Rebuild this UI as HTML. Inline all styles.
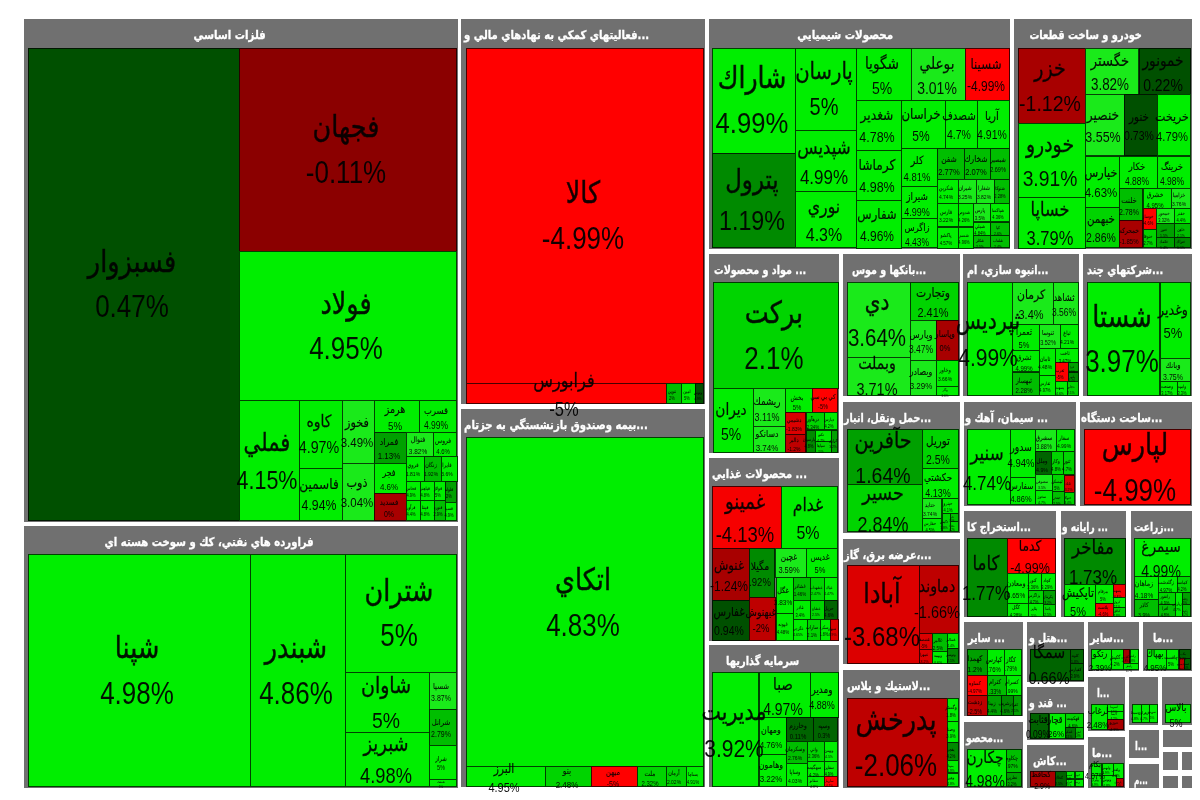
<!DOCTYPE html>
<html lang="fa"><head><meta charset="utf-8"><title>نقشه بازار</title>
<style>
html,body{margin:0;padding:0;background:#fff}
body{width:1200px;height:800px;position:relative;overflow:hidden;filter:blur(.55px);font-family:"Liberation Sans","DejaVu Sans",sans-serif}
.g{position:absolute;background:#707070}
.h{position:absolute;left:0;right:0;top:0;color:#fff;font-family:"DejaVu Sans","Liberation Sans",sans-serif;font-weight:bold;font-size:12px;line-height:14px;white-space:nowrap;overflow:hidden;direction:ltr;text-align:left;-webkit-text-stroke:.3px #fff}
.h span{display:inline-block;transform-origin:0 50%;transform:scaleX(.81)}
.h.c{text-align:center}
.h.c span{transform-origin:50% 50%;transform:translateX(-12.5%) scaleX(.83)}
.t{position:absolute;box-sizing:border-box;border:1px solid rgba(0,0,0,.72)}
.l{position:absolute;white-space:nowrap;color:#000;text-align:center;transform-origin:50% 50%;direction:rtl;opacity:.92}
.l b{font-weight:normal;display:block;direction:ltr}
.l span{display:block;position:relative;transform:scaleX(.98);-webkit-text-stroke:.015em #000}
</style></head><body>
<div class="g" style="left:23.5px;top:19px;width:434px;height:503px"><div class="h c" style="height:19.5px;padding:9px 0 0 0"><span id="h0" style="transform:translateX(-12.71%) scaleX(0.85)">فلزات اساسي</span></div><div class="t" style="left:4px;top:28.5px;width:212.2px;height:473px;background:#005000"></div><div class="t" style="left:215.2px;top:28.5px;width:218.8px;height:204.5px;background:#8B0000"></div><div class="t" style="left:215.2px;top:232px;width:218.8px;height:150px;background:#00EE00"></div><div class="t" style="left:215.2px;top:381px;width:61.3px;height:120.5px;background:#00EE00"></div><div class="t" style="left:275.5px;top:381px;width:44px;height:68.5px;background:#00EE00"></div><div class="t" style="left:275.5px;top:448.5px;width:44px;height:53px;background:#00EE00"></div><div class="t" style="left:318.5px;top:381px;width:33px;height:64px;background:#1AEA1A"></div><div class="t" style="left:318.5px;top:444px;width:33px;height:57.5px;background:#1AEA1A"></div><div class="t" style="left:350.5px;top:381px;width:45.8px;height:33px;background:#00EE00"></div><div class="t" style="left:395.3px;top:381px;width:38.7px;height:33px;background:#00EE00"></div><div class="t" style="left:350.5px;top:413px;width:33px;height:31.5px;background:#00A000"></div><div class="t" style="left:382.5px;top:413px;width:27.8px;height:24.5px;background:#1AEA1A"></div><div class="t" style="left:409.3px;top:413px;width:24.7px;height:24.5px;background:#00EE00"></div><div class="t" style="left:350.5px;top:443.5px;width:33px;height:31.5px;background:#00EE00"></div><div class="t" style="left:350.5px;top:474px;width:33px;height:27.5px;background:#A80000"></div><div class="t" style="left:382.5px;top:436.5px;width:18.5px;height:26px;background:#00EE00"></div><div class="t" style="left:400px;top:436.5px;width:18px;height:26px;background:#00BE00"></div><div class="t" style="left:417px;top:436.5px;width:17px;height:26px;background:#00EE00"></div><div class="t" style="left:382.5px;top:461.5px;width:14.5px;height:20px;background:#00EE00"></div><div class="t" style="left:396px;top:461.5px;width:15.5px;height:20px;background:#00EE00"></div><div class="t" style="left:410.5px;top:461.5px;width:12.1px;height:20px;background:#00EE00"></div><div class="t" style="left:421.6px;top:461.5px;width:12.4px;height:22px;background:#00A000"></div><div class="t" style="left:382.5px;top:480.5px;width:14.5px;height:21px;background:#00EE00"></div><div class="t" style="left:396px;top:480.5px;width:15.5px;height:21px;background:#00EE00"></div><div class="t" style="left:410.5px;top:480.5px;width:12.1px;height:21px;background:#00BE00"></div><div class="t" style="left:421.6px;top:482.5px;width:12.4px;height:19px;background:#00EE00"></div></div>
<div class="g" style="left:23.5px;top:526px;width:434px;height:261.5px"><div class="h c" style="height:18.5px;padding:9px 0 0 0"><span id="h1" style="transform:translateX(-12.58%) scaleX(0.84)">فراورده هاي نفتي، كك و سوخت هسته اي</span></div><div class="t" style="left:4px;top:27.5px;width:223.5px;height:233.5px;background:#00EE00"></div><div class="t" style="left:226.5px;top:27.5px;width:96.3px;height:233.5px;background:#00EE00"></div><div class="t" style="left:321.8px;top:27.5px;width:112.2px;height:119px;background:#00EE00"></div><div class="t" style="left:321.8px;top:145.5px;width:84.9px;height:61.5px;background:#00EE00"></div><div class="t" style="left:321.8px;top:206px;width:84.9px;height:55px;background:#00EE00"></div><div class="t" style="left:405.7px;top:145.5px;width:28.3px;height:38px;background:#1AEA1A"></div><div class="t" style="left:405.7px;top:182.5px;width:28.3px;height:37px;background:#00BE00"></div><div class="t" style="left:405.7px;top:218.5px;width:28.3px;height:35px;background:#00EE00"></div><div class="t" style="left:405.7px;top:252.5px;width:28.3px;height:8.5px;background:#00EE00"></div></div>
<div class="g" style="left:461px;top:19px;width:244px;height:385.3px"><div class="h" style="height:19.5px;padding:9px 0 0 2.5px"><span id="h2" style="transform:scaleX(0.84)">فعاليتهاي كمكي به نهادهاي مالي و...</span></div><div class="t" style="left:4.5px;top:28.5px;width:238.8px;height:336.8px;background:#FF0000"></div><div class="t" style="left:4.5px;top:364.3px;width:201.8px;height:20.5px;background:#FF0000"></div><div class="t" style="left:205.3px;top:364.3px;width:16px;height:20.5px;background:#00BE00"></div><div class="t" style="left:220.3px;top:364.3px;width:15px;height:20.5px;background:#00EE00"></div><div class="t" style="left:234.3px;top:364.3px;width:9px;height:20.5px;background:#005000"></div></div>
<div class="g" style="left:461px;top:408.7px;width:244px;height:378.8px"><div class="h" style="height:19.3px;padding:9px 0 0 2.7px"><span id="h3" style="transform:scaleX(0.84)">بيمه وصندوق بازنشستگي به جزتام...</span></div><div class="t" style="left:4.5px;top:28.3px;width:238.8px;height:330.5px;background:#00EE00"></div><div class="t" style="left:4.5px;top:357.8px;width:80.8px;height:20.5px;background:#00EE00"></div><div class="t" style="left:84.3px;top:357.8px;width:47px;height:20.5px;background:#00D400"></div><div class="t" style="left:130.3px;top:357.8px;width:46.5px;height:20.5px;background:#FF0000"></div><div class="t" style="left:175.8px;top:357.8px;width:29.9px;height:20.5px;background:#00D400"></div><div class="t" style="left:204.7px;top:357.8px;width:21px;height:20.5px;background:#00D400"></div><div class="t" style="left:224.7px;top:357.8px;width:18.6px;height:20.5px;background:#00EE00"></div></div>
<div class="g" style="left:708.7px;top:19px;width:301.8px;height:230px"><div class="h c" style="height:19.5px;padding:9px 0 0 0"><span id="h4" style="transform:translateX(-12.95%) scaleX(0.86)">محصولات شيميايي</span></div><div class="t" style="left:3.8px;top:28.5px;width:83.8px;height:106.4px;background:#00EE00"></div><div class="t" style="left:3.8px;top:133.9px;width:83.8px;height:95.6px;background:#008A00"></div><div class="t" style="left:86.6px;top:28.5px;width:61.7px;height:83.7px;background:#00EE00"></div><div class="t" style="left:86.6px;top:111.2px;width:61.7px;height:62.1px;background:#00EE00"></div><div class="t" style="left:86.6px;top:172.3px;width:61.7px;height:57.2px;background:#00EE00"></div><div class="t" style="left:147.3px;top:28.5px;width:56px;height:53.3px;background:#00EE00"></div><div class="t" style="left:202.3px;top:28.5px;width:55.5px;height:53.3px;background:#1AEA1A"></div><div class="t" style="left:256.8px;top:28.5px;width:44.5px;height:53.3px;background:#FF0000"></div><div class="t" style="left:147.3px;top:80.8px;width:45.7px;height:50.9px;background:#00EE00"></div><div class="t" style="left:192px;top:80.8px;width:45.2px;height:48.9px;background:#00EE00"></div><div class="t" style="left:236.2px;top:80.8px;width:33.1px;height:48.9px;background:#00EE00"></div><div class="t" style="left:268.3px;top:80.8px;width:33px;height:48.9px;background:#00EE00"></div><div class="t" style="left:147.3px;top:130.7px;width:45.7px;height:51.3px;background:#00EE00"></div><div class="t" style="left:147.3px;top:181px;width:45.7px;height:48.5px;background:#00EE00"></div><div class="t" style="left:192px;top:128.7px;width:36.9px;height:39.5px;background:#00EE00"></div><div class="t" style="left:192px;top:167.2px;width:36.9px;height:33.1px;background:#00EE00"></div><div class="t" style="left:192px;top:199.3px;width:36.9px;height:30.2px;background:#00EE00"></div><div class="t" style="left:227.9px;top:128.7px;width:28.6px;height:31.9px;background:#00BE00"></div><div class="t" style="left:255.5px;top:128.7px;width:27.3px;height:31.9px;background:#00BE00"></div><div class="t" style="left:281.8px;top:128.7px;width:19.5px;height:31.9px;background:#00BE00"></div><div class="t" style="left:227.9px;top:159.6px;width:22.1px;height:25.1px;background:#00EE00"></div><div class="t" style="left:249px;top:159.6px;width:19px;height:25.1px;background:#1AEA1A"></div><div class="t" style="left:267px;top:159.6px;width:19.7px;height:25.1px;background:#1AEA1A"></div><div class="t" style="left:285.7px;top:159.6px;width:15.6px;height:25.1px;background:#00BE00"></div><div class="t" style="left:227.9px;top:183.7px;width:22.1px;height:24.8px;background:#00EE00"></div><div class="t" style="left:249px;top:183.7px;width:16.1px;height:24.8px;background:#00EE00"></div><div class="t" style="left:264.1px;top:183.7px;width:18.7px;height:19.8px;background:#1AEA1A"></div><div class="t" style="left:281.8px;top:183.7px;width:19.5px;height:19.8px;background:#00EE00"></div><div class="t" style="left:227.9px;top:207.5px;width:22.1px;height:22px;background:#00EE00"></div><div class="t" style="left:249px;top:207.5px;width:16.1px;height:22px;background:#00EE00"></div><div class="t" style="left:264.1px;top:202.5px;width:18.7px;height:14.6px;background:#00EE00"></div><div class="t" style="left:264.1px;top:216.1px;width:18.7px;height:13.4px;background:#00BE00"></div><div class="t" style="left:281.8px;top:202.5px;width:19.5px;height:14.6px;background:#00BE00"></div><div class="t" style="left:281.8px;top:216.1px;width:19.5px;height:13.4px;background:#00BE00"></div></div>
<div class="g" style="left:1014px;top:19px;width:177.6px;height:230px"><div class="h c" style="height:19.5px;padding:9px 0 0 0"><span id="h5" style="transform:translateX(-12.34%) scaleX(0.82)">خودرو و ساخت قطعات</span></div><div class="t" style="left:4px;top:28.5px;width:67.8px;height:76px;background:#A80000"></div><div class="t" style="left:4px;top:103.5px;width:67.8px;height:75.5px;background:#00EE00"></div><div class="t" style="left:4px;top:178px;width:67.8px;height:51.5px;background:#00EE00"></div><div class="t" style="left:70.8px;top:28.5px;width:54.7px;height:47.4px;background:#1AEA1A"></div><div class="t" style="left:124.5px;top:28.5px;width:52.6px;height:47.4px;background:#005000"></div><div class="t" style="left:70.8px;top:74.9px;width:40.4px;height:62.6px;background:#1AEA1A"></div><div class="t" style="left:110.2px;top:74.9px;width:33.9px;height:62.6px;background:#005000"></div><div class="t" style="left:143.1px;top:74.9px;width:34px;height:62.6px;background:#00EE00"></div><div class="t" style="left:70.8px;top:136.5px;width:35.6px;height:52.1px;background:#00EE00"></div><div class="t" style="left:70.8px;top:187.6px;width:35.6px;height:41.9px;background:#00D400"></div><div class="t" style="left:105.4px;top:136.5px;width:38.7px;height:33.7px;background:#00EE00"></div><div class="t" style="left:143.1px;top:136.5px;width:34px;height:33.7px;background:#00EE00"></div><div class="t" style="left:105.4px;top:169.2px;width:24.1px;height:32.5px;background:#00BE00"></div><div class="t" style="left:105.4px;top:200.7px;width:24.1px;height:28.8px;background:#A80000"></div><div class="t" style="left:128.5px;top:169.2px;width:29.2px;height:20.7px;background:#00EE00"></div><div class="t" style="left:156.7px;top:169.2px;width:20.4px;height:20.7px;background:#1AEA1A"></div><div class="t" style="left:128.5px;top:188.9px;width:14.8px;height:21.8px;background:#FF0000"></div><div class="t" style="left:128.5px;top:209.7px;width:14.8px;height:19.8px;background:#00D400"></div><div class="t" style="left:142.3px;top:188.9px;width:19px;height:16.1px;background:#1AEA1A"></div><div class="t" style="left:160.3px;top:188.9px;width:16.8px;height:16.1px;background:#00EE00"></div><div class="t" style="left:142.3px;top:204px;width:19px;height:14.8px;background:#00A000"></div><div class="t" style="left:160.3px;top:204px;width:16.8px;height:14.8px;background:#00BE00"></div><div class="t" style="left:142.3px;top:217.8px;width:19px;height:11.7px;background:#00A000"></div><div class="t" style="left:160.3px;top:217.8px;width:16.8px;height:11.7px;background:#008A00"></div></div>
<div class="g" style="left:708.5px;top:254px;width:130.5px;height:199.3px"><div class="h" style="height:19px;padding:9px 0 0 5px"><span id="h6" style="transform:scaleX(0.8)">مواد و محصولات ...</span></div><div class="t" style="left:4px;top:28px;width:126px;height:107.1px;background:#00D400"></div><div class="t" style="left:4px;top:134.1px;width:41px;height:64.7px;background:#00EE00"></div><div class="t" style="left:44px;top:134.1px;width:33.8px;height:39px;background:#1AEA1A"></div><div class="t" style="left:44px;top:172.1px;width:33.8px;height:26.7px;background:#1AEA1A"></div><div class="t" style="left:76.8px;top:134.1px;width:27.4px;height:25.2px;background:#00EE00"></div><div class="t" style="left:103.2px;top:134.1px;width:26.8px;height:25.2px;background:#FF0000"></div><div class="t" style="left:76.8px;top:158.3px;width:21.2px;height:22.5px;background:#DC0000"></div><div class="t" style="left:76.8px;top:179.8px;width:21.2px;height:19px;background:#BE0000"></div><div class="t" style="left:97px;top:158.3px;width:19.3px;height:18.2px;background:#00D400"></div><div class="t" style="left:115.3px;top:158.3px;width:14.7px;height:18.2px;background:#00EE00"></div><div class="t" style="left:97px;top:175.5px;width:10.5px;height:23.3px;background:#008A00"></div><div class="t" style="left:106.5px;top:175.5px;width:16.7px;height:12px;background:#00EE00"></div><div class="t" style="left:106.5px;top:186.5px;width:16.7px;height:12.3px;background:#00D400"></div><div class="t" style="left:122.2px;top:175.5px;width:7.8px;height:23.3px;background:#00A000"></div></div>
<div class="g" style="left:843px;top:254px;width:116.5px;height:142.3px"><div class="h" style="height:19px;padding:9px 0 0 9px"><span id="h7" style="transform:scaleX(0.79)">بانكها و موس...</span></div><div class="t" style="left:4.2px;top:28px;width:63.8px;height:75.7px;background:#1AEA1A"></div><div class="t" style="left:4.2px;top:102.7px;width:63.8px;height:39.3px;background:#1AEA1A"></div><div class="t" style="left:67px;top:28px;width:49px;height:38.6px;background:#00D400"></div><div class="t" style="left:67px;top:65.6px;width:26.5px;height:41.4px;background:#1AEA1A"></div><div class="t" style="left:92.5px;top:65.6px;width:23.5px;height:41.4px;background:#A80000"></div><div class="t" style="left:67px;top:106px;width:26.5px;height:36px;background:#1AEA1A"></div><div class="t" style="left:92.5px;top:106px;width:23.5px;height:27.2px;background:#00EE00"></div><div class="t" style="left:92.5px;top:132.2px;width:23.5px;height:9.8px;background:#00EE00"></div></div>
<div class="g" style="left:963.3px;top:254px;width:115.7px;height:142.3px"><div class="h" style="height:19px;padding:9px 0 0 3.4px"><span id="h8" style="transform:scaleX(0.8)">انبوه سازي، ام...</span></div><div class="t" style="left:3.7px;top:28px;width:46px;height:114px;background:#00EE00"></div><div class="t" style="left:48.7px;top:28px;width:41.9px;height:43px;background:#1AEA1A"></div><div class="t" style="left:89.6px;top:28px;width:25.8px;height:43px;background:#1AEA1A"></div><div class="t" style="left:48.7px;top:70px;width:27.7px;height:26.9px;background:#00EE00"></div><div class="t" style="left:75.4px;top:70px;width:22.2px;height:25px;background:#1AEA1A"></div><div class="t" style="left:96.6px;top:70px;width:18.8px;height:25px;background:#00EE00"></div><div class="t" style="left:48.7px;top:95.9px;width:27.7px;height:22.6px;background:#00EE00"></div><div class="t" style="left:48.7px;top:117.5px;width:27.7px;height:24.5px;background:#00BE00"></div><div class="t" style="left:75.4px;top:94px;width:17.5px;height:28.2px;background:#00EE00"></div><div class="t" style="left:91.9px;top:94px;width:23.5px;height:15.1px;background:#00EE00"></div><div class="t" style="left:91.9px;top:108.1px;width:14.1px;height:20.3px;background:#FF0000"></div><div class="t" style="left:105px;top:108.1px;width:10.4px;height:10.4px;background:#00A000"></div><div class="t" style="left:105px;top:117.5px;width:10.4px;height:10.9px;background:#008A00"></div><div class="t" style="left:75.4px;top:121.2px;width:17.5px;height:20.8px;background:#00EE00"></div><div class="t" style="left:91.9px;top:127.4px;width:13.2px;height:14.6px;background:#00EE00"></div><div class="t" style="left:104.1px;top:127.4px;width:11.3px;height:14.6px;background:#00D400"></div></div>
<div class="g" style="left:1083px;top:254px;width:108.6px;height:142.3px"><div class="h" style="height:19px;padding:9px 0 0 4.2px"><span id="h9" style="transform:scaleX(0.82)">شركتهاي چند...</span></div><div class="t" style="left:4.2px;top:28px;width:73.3px;height:114px;background:#00EE00"></div><div class="t" style="left:76.5px;top:28px;width:31.6px;height:76.8px;background:#00EE00"></div><div class="t" style="left:76.5px;top:103.8px;width:31.6px;height:24.4px;background:#1AEA1A"></div><div class="t" style="left:76.5px;top:127.2px;width:18.1px;height:14.8px;background:#00EE00"></div><div class="t" style="left:93.6px;top:127.2px;width:14.5px;height:14.8px;background:#00EE00"></div></div>
<div class="g" style="left:842.5px;top:402.3px;width:117px;height:130.7px"><div class="h" style="height:18.7px;padding:9px 0 0 1.8px"><span id="h10" style="transform:scaleX(0.79)">حمل ونقل، انبار...</span></div><div class="t" style="left:4px;top:27.2px;width:76.2px;height:56px;background:#00A000"></div><div class="t" style="left:4px;top:82.2px;width:76.2px;height:48px;background:#00D400"></div><div class="t" style="left:79.2px;top:27.2px;width:37.3px;height:39.4px;background:#00D400"></div><div class="t" style="left:79.2px;top:65.6px;width:37.3px;height:31.3px;background:#00EE00"></div><div class="t" style="left:79.2px;top:95.9px;width:20.8px;height:20.8px;background:#1AEA1A"></div><div class="t" style="left:99px;top:95.9px;width:17.5px;height:15.5px;background:#00EE00"></div><div class="t" style="left:79.2px;top:115.7px;width:20.8px;height:14.5px;background:#00EE00"></div><div class="t" style="left:99px;top:110.4px;width:9px;height:19.8px;background:#00D400"></div><div class="t" style="left:107px;top:110.4px;width:9.5px;height:9.8px;background:#00BE00"></div><div class="t" style="left:107px;top:119.2px;width:9.5px;height:11px;background:#00D400"></div></div>
<div class="g" style="left:963.6px;top:402.3px;width:112.4px;height:104px"><div class="h" style="height:18.7px;padding:9px 0 0 1.2px"><span id="h11" style="transform:scaleX(0.82)">سيمان، آهك و ...</span></div><div class="t" style="left:3.5px;top:27.2px;width:43.8px;height:76px;background:#00EE00"></div><div class="t" style="left:46.3px;top:27.2px;width:26px;height:49px;background:#00EE00"></div><div class="t" style="left:46.3px;top:75.2px;width:26px;height:28px;background:#00EE00"></div><div class="t" style="left:71.3px;top:27.2px;width:22.2px;height:23px;background:#1AEA1A"></div><div class="t" style="left:92.5px;top:27.2px;width:19px;height:23px;background:#00EE00"></div><div class="t" style="left:71.3px;top:49.2px;width:17.6px;height:24px;background:#006400"></div><div class="t" style="left:87.9px;top:49.2px;width:12.4px;height:24px;background:#00D400"></div><div class="t" style="left:99.3px;top:49.2px;width:12.2px;height:24px;background:#00D400"></div><div class="t" style="left:71.3px;top:72.2px;width:18.6px;height:16.6px;background:#1AEA1A"></div><div class="t" style="left:71.3px;top:87.8px;width:18.6px;height:15.4px;background:#00EE00"></div><div class="t" style="left:88.9px;top:72.2px;width:12.6px;height:17.6px;background:#00D400"></div><div class="t" style="left:100.5px;top:73.2px;width:11px;height:17.4px;background:#DC0000"></div><div class="t" style="left:88.9px;top:88.8px;width:12.6px;height:14.4px;background:#00BE00"></div><div class="t" style="left:100.5px;top:89.6px;width:11px;height:13.6px;background:#00D400"></div></div>
<div class="g" style="left:1080px;top:402.3px;width:111.6px;height:104px"><div class="h" style="height:18.7px;padding:9px 0 0 1px"><span id="h12" style="transform:scaleX(0.84)">ساخت دستگاه...</span></div><div class="t" style="left:3.5px;top:27.2px;width:107.6px;height:76px;background:#FF0000"></div></div>
<div class="g" style="left:708.5px;top:458.4px;width:130.5px;height:182.8px"><div class="h" style="height:18.6px;padding:9px 0 0 3.3px"><span id="h13" style="transform:scaleX(0.83)">محصولات غذايي ...</span></div><div class="t" style="left:3.6px;top:27.6px;width:69.8px;height:63px;background:#F60000"></div><div class="t" style="left:72.4px;top:27.6px;width:57.6px;height:63px;background:#00EE00"></div><div class="t" style="left:3.6px;top:89.6px;width:38.3px;height:52.7px;background:#A80000"></div><div class="t" style="left:3.6px;top:141.3px;width:38.3px;height:41px;background:#005000"></div><div class="t" style="left:40.9px;top:89.6px;width:26.1px;height:50.1px;background:#008A00"></div><div class="t" style="left:40.9px;top:138.7px;width:27.1px;height:43.6px;background:#BE0000"></div><div class="t" style="left:66px;top:89.6px;width:32.4px;height:29.6px;background:#1AEA1A"></div><div class="t" style="left:97.4px;top:89.6px;width:32.6px;height:29.6px;background:#00EE00"></div><div class="t" style="left:67px;top:118.2px;width:18.2px;height:37.3px;background:#00EE00"></div><div class="t" style="left:67px;top:154.5px;width:18.2px;height:27.8px;background:#00EE00"></div><div class="t" style="left:84.2px;top:118.2px;width:18.1px;height:24.7px;background:#00BE00"></div><div class="t" style="left:101.3px;top:118.2px;width:15.5px;height:24.1px;background:#00D400"></div><div class="t" style="left:115.8px;top:118.2px;width:14.2px;height:24.1px;background:#00EE00"></div><div class="t" style="left:84.2px;top:141.9px;width:18.1px;height:19.6px;background:#00EE00"></div><div class="t" style="left:101.3px;top:141.3px;width:15.5px;height:20.2px;background:#00D400"></div><div class="t" style="left:115.8px;top:141.3px;width:14.2px;height:20.2px;background:#006400"></div><div class="t" style="left:84.2px;top:160.5px;width:15.5px;height:21.8px;background:#00EE00"></div><div class="t" style="left:98.7px;top:160.5px;width:14.1px;height:21.8px;background:#00D400"></div><div class="t" style="left:111.8px;top:160.5px;width:10.7px;height:21.8px;background:#00EE00"></div><div class="t" style="left:121.5px;top:160.5px;width:8.5px;height:21.8px;background:#DC0000"></div></div>
<div class="g" style="left:708.5px;top:645.3px;width:130.5px;height:142.2px"><div class="h c" style="height:18.2px;padding:9px 0 0 0"><span id="h14" style="transform:translateX(-12.25%) scaleX(0.82)">سرمايه گذاريها</span></div><div class="t" style="left:3.7px;top:27.2px;width:47.3px;height:114.5px;background:#00EE00"></div><div class="t" style="left:50px;top:27.2px;width:52.5px;height:45.5px;background:#00EE00"></div><div class="t" style="left:101.5px;top:27.2px;width:28.5px;height:45.5px;background:#00EE00"></div><div class="t" style="left:50px;top:71.7px;width:28px;height:38.2px;background:#00EE00"></div><div class="t" style="left:50px;top:108.9px;width:28px;height:32.8px;background:#00EE00"></div><div class="t" style="left:77px;top:71.7px;width:28.7px;height:24.6px;background:#006400"></div><div class="t" style="left:104.7px;top:71.7px;width:25.3px;height:24.6px;background:#006400"></div><div class="t" style="left:77px;top:95.3px;width:22.3px;height:23.7px;background:#00BE00"></div><div class="t" style="left:77px;top:118px;width:22.3px;height:23.7px;background:#00EE00"></div><div class="t" style="left:98.3px;top:95.3px;width:18.6px;height:21.6px;background:#00D400"></div><div class="t" style="left:115.9px;top:95.3px;width:14.1px;height:21.6px;background:#00EE00"></div><div class="t" style="left:98.3px;top:115.9px;width:18.6px;height:15.9px;background:#00EE00"></div><div class="t" style="left:115.9px;top:115.9px;width:14.1px;height:15.9px;background:#00EE00"></div><div class="t" style="left:98.3px;top:130.8px;width:18.6px;height:10.9px;background:#00EE00"></div><div class="t" style="left:115.9px;top:130.8px;width:14.1px;height:10.9px;background:#FF0000"></div></div>
<div class="g" style="left:842.5px;top:539px;width:117px;height:125.3px"><div class="h" style="height:17px;padding:9px 0 0 1.3px"><span id="h15" style="transform:scaleX(0.82)">عرضه برق، گاز،...</span></div><div class="t" style="left:4.5px;top:25.5px;width:73.2px;height:99.2px;background:#DC0000"></div><div class="t" style="left:76.7px;top:25.5px;width:39.8px;height:69.5px;background:#BE0000"></div><div class="t" style="left:76.7px;top:94px;width:13.5px;height:16.5px;background:#DC0000"></div><div class="t" style="left:76.7px;top:109.5px;width:13.5px;height:15.2px;background:#DC0000"></div><div class="t" style="left:89.2px;top:94px;width:16.5px;height:19px;background:#00BE00"></div><div class="t" style="left:104.7px;top:94px;width:11.8px;height:15.6px;background:#00EE00"></div><div class="t" style="left:89.2px;top:112px;width:16.5px;height:12.7px;background:#00EE00"></div><div class="t" style="left:104.7px;top:108.6px;width:11.8px;height:16.1px;background:#008A00"></div></div>
<div class="g" style="left:842.5px;top:670px;width:117px;height:117.7px"><div class="h" style="height:18.6px;padding:9px 0 0 4.3px"><span id="h16" style="transform:scaleX(0.82)">لاستيك و پلاس...</span></div><div class="t" style="left:4.5px;top:27.5px;width:101.2px;height:89.5px;background:#BE0000"></div><div class="t" style="left:104.7px;top:27.5px;width:11.8px;height:24.3px;background:#00EE00"></div><div class="t" style="left:104.7px;top:50.8px;width:11.8px;height:22.4px;background:#00EE00"></div><div class="t" style="left:104.7px;top:72.2px;width:11.8px;height:19px;background:#008A00"></div><div class="t" style="left:104.7px;top:90.2px;width:11.8px;height:13.3px;background:#00EE00"></div><div class="t" style="left:104.7px;top:102.5px;width:11.8px;height:14.5px;background:#00EE00"></div></div>
<div class="g" style="left:963.6px;top:511.2px;width:92.9px;height:106.2px"><div class="h" style="height:18.6px;padding:9px 0 0 3px"><span id="h17" style="transform:scaleX(0.81)">استخراج كا...</span></div><div class="t" style="left:3.2px;top:27.3px;width:41.4px;height:78.4px;background:#008A00"></div><div class="t" style="left:43.6px;top:27.3px;width:48.9px;height:35.5px;background:#FF0000"></div><div class="t" style="left:43.6px;top:61.8px;width:21.8px;height:31px;background:#00EE00"></div><div class="t" style="left:43.6px;top:91.8px;width:21.8px;height:13.9px;background:#00EE00"></div><div class="t" style="left:64.4px;top:61.8px;width:14.3px;height:18.4px;background:#00EE00"></div><div class="t" style="left:77.7px;top:61.8px;width:14.8px;height:18.4px;background:#00EE00"></div><div class="t" style="left:64.4px;top:79.2px;width:16.3px;height:14.1px;background:#00D400"></div><div class="t" style="left:64.4px;top:92.3px;width:16.3px;height:13.4px;background:#00EE00"></div><div class="t" style="left:79.7px;top:79.2px;width:12.8px;height:14.2px;background:#00A000"></div><div class="t" style="left:79.7px;top:92.4px;width:12.8px;height:13.3px;background:#00D400"></div></div>
<div class="g" style="left:1061.2px;top:511.2px;width:65.3px;height:106.2px"><div class="h" style="height:18.6px;padding:9px 0 0 1px"><span id="h18" style="transform:scaleX(0.75)">رايانه و ...</span></div><div class="t" style="left:2.9px;top:27.3px;width:61.9px;height:46.7px;background:#008A00"></div><div class="t" style="left:2.9px;top:73px;width:32.3px;height:32.7px;background:#00EE00"></div><div class="t" style="left:34.2px;top:73px;width:18.3px;height:19.8px;background:#00EE00"></div><div class="t" style="left:51.5px;top:73px;width:13.3px;height:14.3px;background:#F60000"></div><div class="t" style="left:34.2px;top:91.8px;width:18.3px;height:13.9px;background:#F60000"></div><div class="t" style="left:51.5px;top:86.3px;width:13.3px;height:10.2px;background:#00EE00"></div><div class="t" style="left:51.5px;top:95.5px;width:13.3px;height:10.2px;background:#00D400"></div></div>
<div class="g" style="left:1131px;top:511.2px;width:60.6px;height:106.2px"><div class="h" style="height:18.6px;padding:9px 0 0 3.3px"><span id="h19" style="transform:scaleX(0.76)">زراعت...</span></div><div class="t" style="left:3.2px;top:27.3px;width:56.9px;height:38.6px;background:#00EE00"></div><div class="t" style="left:3.2px;top:64.9px;width:24.4px;height:24.4px;background:#00EE00"></div><div class="t" style="left:3.2px;top:88.3px;width:24.4px;height:17.4px;background:#00BE00"></div><div class="t" style="left:26.6px;top:64.9px;width:20.4px;height:17.3px;background:#00EE00"></div><div class="t" style="left:46px;top:64.9px;width:14.1px;height:17.3px;background:#00D400"></div><div class="t" style="left:26.6px;top:81.2px;width:18.4px;height:13.1px;background:#00D400"></div><div class="t" style="left:26.6px;top:93.3px;width:18.4px;height:12.4px;background:#00BE00"></div><div class="t" style="left:44px;top:81.2px;width:8.1px;height:24.5px;background:#00EE00"></div><div class="t" style="left:51.1px;top:81.2px;width:9px;height:13.1px;background:#00A000"></div><div class="t" style="left:51.1px;top:93.3px;width:9px;height:12.4px;background:#00BE00"></div></div>
<div class="g" style="left:963.6px;top:622.3px;width:59px;height:93.9px"><div class="h" style="height:18.5px;padding:9px 0 0 4.4px"><span id="h20" style="transform:scaleX(0.8)">ساير ...</span></div><div class="t" style="left:3.3px;top:27.2px;width:20.8px;height:26.8px;background:#00A000"></div><div class="t" style="left:23.1px;top:27.2px;width:18.8px;height:26.8px;background:#00EE00"></div><div class="t" style="left:40.9px;top:27.2px;width:17.4px;height:26.8px;background:#00EE00"></div><div class="t" style="left:3.3px;top:53px;width:20.8px;height:20.5px;background:#FF0000"></div><div class="t" style="left:23.1px;top:53px;width:20.1px;height:20.5px;background:#00BE00"></div><div class="t" style="left:42.2px;top:53px;width:16.1px;height:20.5px;background:#00EE00"></div><div class="t" style="left:3.3px;top:72.5px;width:20.8px;height:20.8px;background:#BE0000"></div><div class="t" style="left:23.1px;top:72.5px;width:14.9px;height:20.8px;background:#00A000"></div><div class="t" style="left:37px;top:72.5px;width:13.4px;height:20.8px;background:#008A00"></div><div class="t" style="left:49.4px;top:72.5px;width:8.9px;height:20.8px;background:#00A000"></div></div>
<div class="g" style="left:1027px;top:622.3px;width:57.4px;height:59.7px"><div class="h" style="height:18.5px;padding:9px 0 0 2.3px"><span id="h21" style="transform:scaleX(0.78)">هتل و...</span></div><div class="t" style="left:2.9px;top:27.2px;width:41.5px;height:31.7px;background:#006400"></div><div class="t" style="left:43.4px;top:27.2px;width:13.4px;height:14.4px;background:#006400"></div><div class="t" style="left:43.4px;top:40.6px;width:13.4px;height:18.3px;background:#006C00"></div></div>
<div class="g" style="left:1088px;top:622.3px;width:51.2px;height:48.7px"><div class="h" style="height:18.5px;padding:9px 0 0 2.1px"><span id="h22" style="transform:scaleX(0.81)">ساير...</span></div><div class="t" style="left:3.2px;top:27.2px;width:20.8px;height:20.7px;background:#00EE00"></div><div class="t" style="left:23px;top:27.2px;width:12.9px;height:20.7px;background:#00EE00"></div><div class="t" style="left:34.9px;top:27.2px;width:7.6px;height:14.4px;background:#A80000"></div><div class="t" style="left:41.5px;top:27.2px;width:9.1px;height:14.4px;background:#00EE00"></div><div class="t" style="left:34.9px;top:40.6px;width:15.7px;height:7.3px;background:#00EE00"></div></div>
<div class="g" style="left:1143px;top:622.3px;width:48.8px;height:48.7px"><div class="h" style="height:18.5px;padding:9px 0 0 10px"><span id="h23" style="transform:scaleX(0.78)">ما...</span></div><div class="t" style="left:3.6px;top:27.2px;width:20.6px;height:20.7px;background:#00EE00"></div><div class="t" style="left:23.2px;top:27.2px;width:13.3px;height:20.7px;background:#00EE00"></div><div class="t" style="left:35.5px;top:27.2px;width:12.8px;height:9.9px;background:#006400"></div><div class="t" style="left:35.5px;top:36.1px;width:6.7px;height:11.8px;background:#BE0000"></div><div class="t" style="left:41.2px;top:36.1px;width:7.1px;height:11.8px;background:#006400"></div></div>
<div class="g" style="left:1027px;top:686.5px;width:57.4px;height:53.1px"><div class="h" style="height:17.5px;padding:9px 0 0 2.3px"><span id="h24" style="transform:scaleX(0.77)">قند و ...</span></div><div class="t" style="left:2.9px;top:26.3px;width:19.6px;height:26.3px;background:#006400"></div><div class="t" style="left:21.5px;top:26.3px;width:17.7px;height:26.3px;background:#00EE00"></div><div class="t" style="left:38.2px;top:26.3px;width:18.6px;height:15.2px;background:#00D400"></div><div class="t" style="left:38.2px;top:40.5px;width:11.1px;height:12.1px;background:#007000"></div><div class="t" style="left:48.3px;top:40.5px;width:8.5px;height:12.1px;background:#00BE00"></div></div>
<div class="g" style="left:1088px;top:677px;width:37px;height:54px"><div class="h" style="height:17.6px;padding:9px 0 0 8.9px"><span id="h25" style="transform:scaleX(0.69)">ا...</span></div><div class="t" style="left:3.2px;top:26.5px;width:16.8px;height:26.5px;background:#00EE00"></div><div class="t" style="left:19px;top:26.5px;width:17.4px;height:8px;background:#00EE00"></div><div class="t" style="left:19px;top:33.5px;width:17.4px;height:9px;background:#00EE00"></div><div class="t" style="left:19px;top:41.5px;width:17.4px;height:11.5px;background:#A80000"></div></div>
<div class="g" style="left:1129px;top:677px;width:29.3px;height:48px"><div class="t" style="left:3px;top:26.5px;width:9.7px;height:19.6px;background:#00EE00"></div><div class="t" style="left:11.7px;top:26.5px;width:9.6px;height:19.6px;background:#00EE00"></div><div class="t" style="left:20.3px;top:26.5px;width:8.4px;height:19.6px;background:#00EE00"></div></div>
<div class="g" style="left:1162.3px;top:677px;width:29.5px;height:48px"><div class="t" style="left:3.2px;top:26.5px;width:25.8px;height:19.6px;background:#00EE00"></div></div>
<div class="g" style="left:963.6px;top:721.8px;width:59px;height:66px"><div class="h" style="height:18.4px;padding:9px 0 0 2.7px"><span id="h28" style="transform:scaleX(0.76)">محصو...</span></div><div class="t" style="left:3.3px;top:27.2px;width:39.9px;height:38px;background:#00EE00"></div><div class="t" style="left:42.2px;top:27.2px;width:16.1px;height:24px;background:#00BE00"></div><div class="t" style="left:42.2px;top:50.2px;width:16.1px;height:15px;background:#00A000"></div></div>
<div class="g" style="left:1027px;top:745px;width:57.4px;height:42.8px"><div class="h" style="height:17px;padding:9px 0 0 5.6px"><span id="h29" style="transform:scaleX(0.81)">كاش...</span></div><div class="t" style="left:2.9px;top:25.9px;width:25.7px;height:16.1px;background:#A80000"></div><div class="t" style="left:27.6px;top:25.9px;width:12.3px;height:16.1px;background:#006400"></div><div class="t" style="left:38.9px;top:25.9px;width:9.6px;height:8.6px;background:#00EE00"></div><div class="t" style="left:47.5px;top:25.9px;width:9.3px;height:8.6px;background:#00EE00"></div><div class="t" style="left:38.9px;top:33.5px;width:9.6px;height:8.5px;background:#00EE00"></div><div class="t" style="left:47.5px;top:33.5px;width:9.3px;height:8.5px;background:#00EE00"></div></div>
<div class="g" style="left:1088px;top:736.5px;width:37px;height:51.3px"><div class="h" style="height:17.3px;padding:9px 0 0 4.4px"><span id="h30" style="transform:scaleX(0.78)">ما...</span></div><div class="t" style="left:3.2px;top:26px;width:11.3px;height:13px;background:#00EE00"></div><div class="t" style="left:13.5px;top:26px;width:12px;height:13px;background:#00EE00"></div><div class="t" style="left:24.5px;top:26px;width:11.9px;height:16.2px;background:#00EE00"></div><div class="t" style="left:3.2px;top:38px;width:11.3px;height:12.5px;background:#00EE00"></div><div class="t" style="left:13.5px;top:38px;width:15px;height:12.5px;background:#00EE00"></div><div class="t" style="left:27.5px;top:41.2px;width:8.9px;height:9.3px;background:#BE0000"></div></div>
<div class="g" style="left:1129px;top:730.2px;width:30.4px;height:28.2px"><div class="h" style="height:19.2px;padding:9px 0 0 5.7px"><span id="h31" style="transform:scaleX(0.68)">ا...</span></div></div>
<div class="g" style="left:1129px;top:763.5px;width:30.4px;height:24.3px"><div class="h" style="height:15.3px;padding:9px 0 0 5px"><span id="h32" style="transform:scaleX(0.61)">م...</span></div></div>
<div class="g" style="left:1162.8px;top:730.2px;width:29px;height:17px"></div>
<div class="g" style="left:1162.8px;top:752.2px;width:15.6px;height:18.2px"></div>
<div class="g" style="left:1182.4px;top:752.2px;width:9.4px;height:18.2px"></div>
<div class="g" style="left:1162.8px;top:776.3px;width:15.6px;height:11.5px"></div>
<div class="g" style="left:1182.4px;top:776.3px;width:9.4px;height:11.5px"></div>
<div class="l" style="left:-18.4px;top:245.19px;width:300px;font-size:30.59px;line-height:41.21px;transform:scaleX(0.85)"><span style="top:-4.68px">فسبزوار</span><b>0.47%</b></div>
<div class="l" style="left:196.1px;top:110.94px;width:300px;font-size:30.59px;line-height:41.21px;transform:scaleX(0.85)"><span style="top:-4.68px">فجهان</span><b>-0.11%</b></div>
<div class="l" style="left:196.1px;top:287.19px;width:300px;font-size:30.59px;line-height:41.21px;transform:scaleX(0.85)"><span style="top:-4.68px">فولاد</span><b>4.95%</b></div>
<div class="l" style="left:117.35px;top:428.57px;width:300px;font-size:25.29px;line-height:34.08px;transform:scaleX(0.85)"><span style="top:-3.87px">فملي</span><b>4.15%</b></div>
<div class="l" style="left:169px;top:413.98px;width:300px;font-size:16.82px;line-height:22.67px;transform:scaleX(0.85)"><span style="top:-2.57px">كاوه</span><b>4.97%</b></div>
<div class="l" style="left:169px;top:476.9px;width:300px;font-size:14.47px;line-height:19.5px;transform:scaleX(0.85)"><span style="top:-2.21px">فاسمين</span><b>4.94%</b></div>
<div class="l" style="left:206.5px;top:416.17px;width:300px;font-size:13.53px;line-height:18.23px;transform:scaleX(0.85)"><span style="top:-2.07px">فخوز</span><b>3.49%</b></div>
<div class="l" style="left:206.5px;top:475.92px;width:300px;font-size:13.53px;line-height:18.23px;transform:scaleX(0.85)"><span style="top:-2.07px">ذوب</span><b>3.04%</b></div>
<div class="l" style="left:244.9px;top:403.53px;width:300px;font-size:11.41px;line-height:15.37px;transform:scaleX(0.85)"><span style="top:-1.75px">هرمز</span><b>5%</b></div>
<div class="l" style="left:286.15px;top:405.43px;width:300px;font-size:10px;line-height:13.47px;transform:scaleX(0.85)"><span style="top:-1.53px">فسرب</span><b>4.99%</b></div>
<div class="l" style="left:238.5px;top:437.47px;width:300px;font-size:9.41px;line-height:12.68px;transform:scaleX(0.85)"><span style="top:-1.44px">فمراد</span><b>1.13%</b></div>
<div class="l" style="left:267.9px;top:436.35px;width:300px;font-size:7.65px;line-height:10.3px;transform:scaleX(0.85)"><span style="top:-1.17px">فنوال</span><b>3.82%</b></div>
<div class="l" style="left:293.15px;top:437.14px;width:300px;font-size:7.06px;line-height:9.51px;transform:scaleX(0.85)"><span style="top:-1.08px">فروس</span><b>4.6%</b></div>
<div class="l" style="left:238.5px;top:467.97px;width:300px;font-size:9.41px;line-height:12.68px;transform:scaleX(0.85)"><span style="top:-1.44px">فجر</span><b>4.6%</b></div>
<div class="l" style="left:238.5px;top:498.05px;width:300px;font-size:8.24px;line-height:11.09px;transform:scaleX(0.85)"><span style="top:-1.26px">فسديد</span><b>0%</b></div>
<div class="l" style="left:263.25px;top:462.97px;width:300px;font-size:5.88px;line-height:7.92px;transform:scaleX(0.85)"><span style="top:-0.9px">فروي</span><b>1.81%</b></div>
<div class="l" style="left:280.5px;top:462.97px;width:300px;font-size:5.88px;line-height:7.92px;transform:scaleX(0.85)"><span style="top:-0.9px">زنگان</span><b>1.92%</b></div>
<div class="l" style="left:297px;top:462.97px;width:300px;font-size:5.88px;line-height:7.92px;transform:scaleX(0.85)"><span style="top:-0.9px">فايرا</span><b>3.6%</b></div>
<div class="l" style="left:261.25px;top:486.56px;width:300px;font-size:4.71px;line-height:6.34px;transform:scaleX(0.85)"><span style="top:-0.72px">فخاس</span><b>4.9%</b></div>
<div class="l" style="left:275.25px;top:486.56px;width:300px;font-size:4.71px;line-height:6.34px;transform:scaleX(0.85)"><span style="top:-0.72px">فباهنر</span><b>4.8%</b></div>
<div class="l" style="left:288.05px;top:486.56px;width:300px;font-size:4.71px;line-height:6.34px;transform:scaleX(0.85)"><span style="top:-0.72px">فولاژ</span><b>5%</b></div>
<div class="l" style="left:299.3px;top:487.56px;width:300px;font-size:4.71px;line-height:6.34px;transform:scaleX(0.85)"><span style="top:-0.72px">فلوله</span><b>2%</b></div>
<div class="l" style="left:261.25px;top:506.06px;width:300px;font-size:4.71px;line-height:6.34px;transform:scaleX(0.85)"><span style="top:-0.72px">فرآور</span><b>4.4%</b></div>
<div class="l" style="left:275.25px;top:506.06px;width:300px;font-size:4.71px;line-height:6.34px;transform:scaleX(0.85)"><span style="top:-0.72px">فپنتا</span><b>4.8%</b></div>
<div class="l" style="left:288.05px;top:506.06px;width:300px;font-size:4.71px;line-height:6.34px;transform:scaleX(0.85)"><span style="top:-0.72px">فنورد</span><b>2.9%</b></div>
<div class="l" style="left:299.3px;top:507.06px;width:300px;font-size:4.71px;line-height:6.34px;transform:scaleX(0.85)"><span style="top:-0.72px">فسپا</span><b>4.9%</b></div>
<div class="l" style="left:-12.75px;top:631.44px;width:300px;font-size:30.59px;line-height:41.21px;transform:scaleX(0.85)"><span style="top:-4.68px">شپنا</span><b>4.98%</b></div>
<div class="l" style="left:146.15px;top:631.44px;width:300px;font-size:30.59px;line-height:41.21px;transform:scaleX(0.85)"><span style="top:-4.68px">شبندر</span><b>4.86%</b></div>
<div class="l" style="left:249.4px;top:574.19px;width:300px;font-size:30.59px;line-height:41.21px;transform:scaleX(0.85)"><span style="top:-4.68px">شتران</span><b>5%</b></div>
<div class="l" style="left:235.75px;top:673.9px;width:300px;font-size:22.82px;line-height:30.75px;transform:scaleX(0.85)"><span style="top:-3.49px">شاوان</span><b>5%</b></div>
<div class="l" style="left:235.75px;top:732.89px;width:300px;font-size:21.53px;line-height:29.01px;transform:scaleX(0.85)"><span style="top:-3.29px">شبريز</span><b>4.98%</b></div>
<div class="l" style="left:291.35px;top:681.8px;width:300px;font-size:8.24px;line-height:11.09px;transform:scaleX(0.85)"><span style="top:-1.26px">شسپا</span><b>3.87%</b></div>
<div class="l" style="left:291.35px;top:718.3px;width:300px;font-size:8.24px;line-height:11.09px;transform:scaleX(0.85)"><span style="top:-1.26px">شرانل</span><b>2.79%</b></div>
<div class="l" style="left:291.35px;top:755.68px;width:300px;font-size:6.47px;line-height:8.72px;transform:scaleX(0.85)"><span style="top:-0.99px">شراز</span><b>5%</b></div>
<div class="l" style="left:291.35px;top:780.39px;width:300px;font-size:3.53px;line-height:4.75px;transform:scaleX(0.85)"><span style="top:-0.54px">شنفت</span><b>5%</b></div>
<div class="l" style="left:432.9px;top:177.09px;width:300px;font-size:30.59px;line-height:41.21px;transform:scaleX(0.85)"><span style="top:-4.68px">كالا</span><b>-4.99%</b></div>
<div class="l" style="left:414.4px;top:369.8px;width:300px;font-size:19.41px;line-height:26.15px;transform:scaleX(0.85)"><span style="top:-2.97px">فرابورس</span><b>-5%</b></div>
<div class="l" style="left:522.3px;top:389.61px;width:300px;font-size:4.71px;line-height:6.34px;transform:scaleX(0.85)"><span style="top:-0.72px">تنوين</span><b>2%</b></div>
<div class="l" style="left:536.8px;top:389.61px;width:300px;font-size:4.71px;line-height:6.34px;transform:scaleX(0.85)"><span style="top:-0.72px">امين</span><b>5%</b></div>
<div class="l" style="left:547.8px;top:390.6px;width:300px;font-size:3.97px;line-height:5.35px;transform:scaleX(0.85)"><span style="top:-0.61px">وتوس</span><b>4.9%</b></div>
<div class="l" style="left:432.9px;top:563.44px;width:300px;font-size:30.59px;line-height:41.21px;transform:scaleX(0.85)"><span style="top:-4.68px">اتكاي</span><b>4.83%</b></div>
<div class="l" style="left:353.9px;top:761.72px;width:300px;font-size:12.94px;line-height:17.43px;transform:scaleX(0.85)"><span style="top:-1.98px">البرز</span><b>4.95%</b></div>
<div class="l" style="left:416.8px;top:766.47px;width:300px;font-size:9.41px;line-height:12.68px;transform:scaleX(0.85)"><span style="top:-1.44px">بنو</span><b>2.48%</b></div>
<div class="l" style="left:462.55px;top:768.05px;width:300px;font-size:8.24px;line-height:11.09px;transform:scaleX(0.85)"><span style="top:-1.26px">ميهن</span><b>-5%</b></div>
<div class="l" style="left:499.75px;top:769.64px;width:300px;font-size:7.06px;line-height:9.51px;transform:scaleX(0.85)"><span style="top:-1.08px">ملت</span><b>2.32%</b></div>
<div class="l" style="left:524.2px;top:771.23px;width:300px;font-size:5.88px;line-height:7.92px;transform:scaleX(0.85)"><span style="top:-0.9px">آرمان</span><b>2.02%</b></div>
<div class="l" style="left:543px;top:772.02px;width:300px;font-size:5.29px;line-height:7.13px;transform:scaleX(0.85)"><span style="top:-0.81px">بساما</span><b>4.91%</b></div>
<div class="l" style="left:602.4px;top:62.37px;width:300px;font-size:30.24px;line-height:40.73px;transform:scaleX(0.85)"><span style="top:-4.63px">شاراك</span><b>4.99%</b></div>
<div class="l" style="left:602.4px;top:166.17px;width:300px;font-size:27.41px;line-height:36.93px;transform:scaleX(0.85)"><span style="top:-4.19px">پترول</span><b>1.19%</b></div>
<div class="l" style="left:674.15px;top:60.05px;width:300px;font-size:23.53px;line-height:31.7px;transform:scaleX(0.85)"><span style="top:-3.6px">پارسان</span><b>5%</b></div>
<div class="l" style="left:674.15px;top:136.71px;width:300px;font-size:20px;line-height:26.95px;transform:scaleX(0.85)"><span style="top:-3.06px">شپديس</span><b>4.99%</b></div>
<div class="l" style="left:674.15px;top:196.94px;width:300px;font-size:18.82px;line-height:25.36px;transform:scaleX(0.85)"><span style="top:-2.88px">نوري</span><b>4.3%</b></div>
<div class="l" style="left:732px;top:54.36px;width:300px;font-size:16.47px;line-height:22.19px;transform:scaleX(0.85)"><span style="top:-2.52px">شگويا</span><b>5%</b></div>
<div class="l" style="left:786.75px;top:54.36px;width:300px;font-size:16.47px;line-height:22.19px;transform:scaleX(0.85)"><span style="top:-2.52px">بوعلي</span><b>3.01%</b></div>
<div class="l" style="left:835.75px;top:57.53px;width:300px;font-size:14.12px;line-height:19.02px;transform:scaleX(0.85)"><span style="top:-2.16px">شسينا</span><b>-4.99%</b></div>
<div class="l" style="left:726.85px;top:107.84px;width:300px;font-size:14.71px;line-height:19.81px;transform:scaleX(0.85)"><span style="top:-2.25px">شغدير</span><b>4.78%</b></div>
<div class="l" style="left:771.3px;top:107.63px;width:300px;font-size:14.12px;line-height:19.02px;transform:scaleX(0.85)"><span style="top:-2.16px">خراسان</span><b>5%</b></div>
<div class="l" style="left:809.45px;top:110.01px;width:300px;font-size:12.35px;line-height:16.64px;transform:scaleX(0.85)"><span style="top:-1.89px">شصدف</span><b>4.7%</b></div>
<div class="l" style="left:841.5px;top:110.01px;width:300px;font-size:12.35px;line-height:16.64px;transform:scaleX(0.85)"><span style="top:-1.89px">آريا</span><b>4.91%</b></div>
<div class="l" style="left:726.85px;top:157.94px;width:300px;font-size:14.71px;line-height:19.81px;transform:scaleX(0.85)"><span style="top:-2.25px">كرماشا</span><b>4.98%</b></div>
<div class="l" style="left:726.85px;top:207.63px;width:300px;font-size:14.12px;line-height:19.02px;transform:scaleX(0.85)"><span style="top:-2.16px">شفارس</span><b>4.96%</b></div>
<div class="l" style="left:767.15px;top:154.79px;width:300px;font-size:11.18px;line-height:15.06px;transform:scaleX(0.85)"><span style="top:-1.71px">كلر</span><b>4.81%</b></div>
<div class="l" style="left:767.15px;top:190.89px;width:300px;font-size:10.59px;line-height:14.27px;transform:scaleX(0.85)"><span style="top:-1.62px">شيراز</span><b>4.99%</b></div>
<div class="l" style="left:767.15px;top:222.33px;width:300px;font-size:10px;line-height:13.47px;transform:scaleX(0.85)"><span style="top:-1.53px">زاگرس</span><b>4.43%</b></div>
<div class="l" style="left:798.9px;top:154px;width:300px;font-size:8.94px;line-height:12.05px;transform:scaleX(0.85)"><span style="top:-1.37px">شفن</span><b>2.77%</b></div>
<div class="l" style="left:825.85px;top:154px;width:300px;font-size:8.94px;line-height:12.05px;transform:scaleX(0.85)"><span style="top:-1.37px">شخارك</span><b>2.07%</b></div>
<div class="l" style="left:848.25px;top:157.33px;width:300px;font-size:6.47px;line-height:8.72px;transform:scaleX(0.85)"><span style="top:-0.99px">شبصير</span><b>2.69%</b></div>
<div class="l" style="left:795.65px;top:185.62px;width:300px;font-size:5.88px;line-height:7.92px;transform:scaleX(0.85)"><span style="top:-0.9px">شكربن</span><b>4.74%</b></div>
<div class="l" style="left:815.2px;top:185.62px;width:300px;font-size:5.88px;line-height:7.92px;transform:scaleX(0.85)"><span style="top:-0.9px">شيران</span><b>3.25%</b></div>
<div class="l" style="left:833.55px;top:185.62px;width:300px;font-size:5.88px;line-height:7.92px;transform:scaleX(0.85)"><span style="top:-0.9px">شفارا</span><b>3.82%</b></div>
<div class="l" style="left:850.2px;top:187.21px;width:300px;font-size:4.71px;line-height:6.34px;transform:scaleX(0.85)"><span style="top:-0.72px">شتوكا</span><b>2.28%</b></div>
<div class="l" style="left:795.65px;top:209.57px;width:300px;font-size:5.88px;line-height:7.92px;transform:scaleX(0.85)"><span style="top:-0.9px">فارس</span><b>3.22%</b></div>
<div class="l" style="left:813.75px;top:211.16px;width:300px;font-size:4.71px;line-height:6.34px;transform:scaleX(0.85)"><span style="top:-0.72px">شدوص</span><b>4.26%</b></div>
<div class="l" style="left:830.15px;top:207.87px;width:300px;font-size:5.29px;line-height:7.13px;transform:scaleX(0.85)"><span style="top:-0.81px">پارس</span><b>3.5%</b></div>
<div class="l" style="left:848.25px;top:208.66px;width:300px;font-size:4.71px;line-height:6.34px;transform:scaleX(0.85)"><span style="top:-0.72px">شپاكسا</span><b>4.36%</b></div>
<div class="l" style="left:795.65px;top:232.77px;width:300px;font-size:5.29px;line-height:7.13px;transform:scaleX(0.85)"><span style="top:-0.81px">پاكشو</span><b>4.57%</b></div>
<div class="l" style="left:813.75px;top:233.56px;width:300px;font-size:4.71px;line-height:6.34px;transform:scaleX(0.85)"><span style="top:-0.72px">شسم</span><b>4.96%</b></div>
<div class="l" style="left:830.15px;top:224.86px;width:300px;font-size:4.71px;line-height:6.34px;transform:scaleX(0.85)"><span style="top:-0.72px">شملي</span><b>4.84%</b></div>
<div class="l" style="left:830.15px;top:238.65px;width:300px;font-size:4.12px;line-height:5.55px;transform:scaleX(0.85)"><span style="top:-0.63px">شكلر</span><b>2.5%</b></div>
<div class="l" style="left:848.25px;top:225.65px;width:300px;font-size:4.12px;line-height:5.55px;transform:scaleX(0.85)"><span style="top:-0.63px">كيا</span><b>2.6%</b></div>
<div class="l" style="left:848.25px;top:238.65px;width:300px;font-size:4.12px;line-height:5.55px;transform:scaleX(0.85)"><span style="top:-0.63px">شلعاب</span><b>2.4%</b></div>
<div class="l" style="left:899.9px;top:56.99px;width:300px;font-size:22.94px;line-height:30.91px;transform:scaleX(0.85)"><span style="top:-3.51px">خزر</span><b>-1.12%</b></div>
<div class="l" style="left:899.9px;top:132.06px;width:300px;font-size:22.71px;line-height:30.59px;transform:scaleX(0.85)"><span style="top:-3.47px">خودرو</span><b>3.91%</b></div>
<div class="l" style="left:899.9px;top:199px;width:300px;font-size:19.41px;line-height:26.15px;transform:scaleX(0.85)"><span style="top:-2.97px">خساپا</span><b>3.79%</b></div>
<div class="l" style="left:960.15px;top:52.36px;width:300px;font-size:15.76px;line-height:21.24px;transform:scaleX(0.85)"><span style="top:-2.41px">خگستر</span><b>3.82%</b></div>
<div class="l" style="left:1012.8px;top:51.41px;width:300px;font-size:16.47px;line-height:22.19px;transform:scaleX(0.85)"><span style="top:-2.52px">خمونور</span><b>0.22%</b></div>
<div class="l" style="left:953px;top:107.79px;width:300px;font-size:14.71px;line-height:19.81px;transform:scaleX(0.85)"><span style="top:-2.25px">خنصير</span><b>3.55%</b></div>
<div class="l" style="left:989.15px;top:110.96px;width:300px;font-size:12.35px;line-height:16.64px;transform:scaleX(0.85)"><span style="top:-1.89px">خنور</span><b>0.73%</b></div>
<div class="l" style="left:1022.1px;top:109.85px;width:300px;font-size:13.18px;line-height:17.75px;transform:scaleX(0.85)"><span style="top:-2.02px">خريخت</span><b>4.79%</b></div>
<div class="l" style="left:950.6px;top:165.72px;width:300px;font-size:13.53px;line-height:18.23px;transform:scaleX(0.85)"><span style="top:-2.07px">خپارس</span><b>4.63%</b></div>
<div class="l" style="left:950.6px;top:213.31px;width:300px;font-size:12.35px;line-height:16.64px;transform:scaleX(0.85)"><span style="top:-1.89px">خبهمن</span><b>2.86%</b></div>
<div class="l" style="left:986.75px;top:161.28px;width:300px;font-size:10px;line-height:13.47px;transform:scaleX(0.85)"><span style="top:-1.53px">خكار</span><b>4.88%</b></div>
<div class="l" style="left:1022.1px;top:161.28px;width:300px;font-size:10px;line-height:13.47px;transform:scaleX(0.85)"><span style="top:-1.53px">خرينگ</span><b>4.98%</b></div>
<div class="l" style="left:979.45px;top:195.75px;width:300px;font-size:8.24px;line-height:11.09px;transform:scaleX(0.85)"><span style="top:-1.26px">خلنت</span><b>2.78%</b></div>
<div class="l" style="left:979.45px;top:226.99px;width:300px;font-size:7.06px;line-height:9.51px;transform:scaleX(0.85)"><span style="top:-1.08px">خمحركه</span><b>-1.85%</b></div>
<div class="l" style="left:1005.1px;top:191.44px;width:300px;font-size:7.06px;line-height:9.51px;transform:scaleX(0.85)"><span style="top:-1.08px">خشرق</span><b>4.95%</b></div>
<div class="l" style="left:1028.9px;top:193.03px;width:300px;font-size:5.88px;line-height:7.92px;transform:scaleX(0.85)"><span style="top:-0.9px">خزاميا</span><b>3.76%</b></div>
<div class="l" style="left:997.9px;top:214.86px;width:300px;font-size:4.71px;line-height:6.34px;transform:scaleX(0.85)"><span style="top:-0.72px">خوساز</span><b>-4.6%</b></div>
<div class="l" style="left:997.9px;top:234.66px;width:300px;font-size:4.71px;line-height:6.34px;transform:scaleX(0.85)"><span style="top:-0.72px">ختوقا</span><b>2.7%</b></div>
<div class="l" style="left:1013.8px;top:212.01px;width:300px;font-size:4.71px;line-height:6.34px;transform:scaleX(0.85)"><span style="top:-0.72px">خمحور</span><b>3.32%</b></div>
<div class="l" style="left:1030.7px;top:212.01px;width:300px;font-size:4.71px;line-height:6.34px;transform:scaleX(0.85)"><span style="top:-0.72px">خفنر</span><b>4.4%</b></div>
<div class="l" style="left:1013.8px;top:227.25px;width:300px;font-size:4.12px;line-height:5.55px;transform:scaleX(0.85)"><span style="top:-0.63px">ختور</span><b>1.5%</b></div>
<div class="l" style="left:1030.7px;top:227.25px;width:300px;font-size:4.12px;line-height:5.55px;transform:scaleX(0.85)"><span style="top:-0.63px">خاهن</span><b>2.1%</b></div>
<div class="l" style="left:1013.8px;top:239.5px;width:300px;font-size:4.12px;line-height:5.55px;transform:scaleX(0.85)"><span style="top:-0.63px">خكمك</span><b>1.4%</b></div>
<div class="l" style="left:1030.7px;top:239.5px;width:300px;font-size:4.12px;line-height:5.55px;transform:scaleX(0.85)"><span style="top:-0.63px">ختراك</span><b>1.1%</b></div>
<div class="l" style="left:623.5px;top:296.74px;width:300px;font-size:30.59px;line-height:41.21px;transform:scaleX(0.85)"><span style="top:-4.68px">بركت</span><b>2.1%</b></div>
<div class="l" style="left:581px;top:400.66px;width:300px;font-size:16.47px;line-height:22.19px;transform:scaleX(0.85)"><span style="top:-2.52px">ديران</span><b>5%</b></div>
<div class="l" style="left:617.4px;top:395.74px;width:300px;font-size:10.59px;line-height:14.27px;transform:scaleX(0.85)"><span style="top:-1.62px">ريشمك</span><b>3.11%</b></div>
<div class="l" style="left:617.4px;top:429.17px;width:300px;font-size:9.41px;line-height:12.68px;transform:scaleX(0.85)"><span style="top:-1.44px">دسانكو</span><b>3.74%</b></div>
<div class="l" style="left:647px;top:393.59px;width:300px;font-size:7.06px;line-height:9.51px;transform:scaleX(0.85)"><span style="top:-1.08px">بخش</span><b>5%</b></div>
<div class="l" style="left:673.1px;top:394.38px;width:300px;font-size:6.47px;line-height:8.72px;transform:scaleX(0.85)"><span style="top:-0.99px">كي بي سي</span><b>-5%</b></div>
<div class="l" style="left:643.9px;top:418.02px;width:300px;font-size:5.88px;line-height:7.92px;transform:scaleX(0.85)"><span style="top:-0.9px">دشيمي</span><b>-1.83%</b></div>
<div class="l" style="left:643.9px;top:437.77px;width:300px;font-size:5.88px;line-height:7.92px;transform:scaleX(0.85)"><span style="top:-0.9px">دالبر</span><b>-1.2%</b></div>
<div class="l" style="left:663.15px;top:416.67px;width:300px;font-size:5.29px;line-height:7.13px;transform:scaleX(0.85)"><span style="top:-0.81px">درهآور</span><b>2.34%</b></div>
<div class="l" style="left:679.15px;top:417.46px;width:300px;font-size:4.71px;line-height:6.34px;transform:scaleX(0.85)"><span style="top:-0.72px">دپارس</span><b>4.2%</b></div>
<div class="l" style="left:658.75px;top:437.32px;width:300px;font-size:4.62px;line-height:6.23px;transform:scaleX(0.85)"><span style="top:-0.71px">پارسيان</span><b>4.8%</b></div>
<div class="l" style="left:671.35px;top:432.28px;width:300px;font-size:4.17px;line-height:5.62px;transform:scaleX(0.85)"><span style="top:-0.64px">تكنو</span><b>4.7%</b></div>
<div class="l" style="left:671.35px;top:443.35px;width:300px;font-size:4.23px;line-height:5.7px;transform:scaleX(0.85)"><span style="top:-0.65px">سپاها</span><b>5%</b></div>
<div class="l" style="left:682.6px;top:438.28px;width:300px;font-size:3.91px;line-height:5.27px;transform:scaleX(0.85)"><span style="top:-0.6px">كرازي</span><b>3.2%</b></div>
<div class="l" style="left:727.1px;top:289.76px;width:300px;font-size:24.12px;line-height:32.49px;transform:scaleX(0.85)"><span style="top:-3.69px">دي</span><b>3.64%</b></div>
<div class="l" style="left:727.1px;top:355.77px;width:300px;font-size:17.06px;line-height:22.98px;transform:scaleX(0.85)"><span style="top:-2.61px">وبملت</span><b>3.71%</b></div>
<div class="l" style="left:782.5px;top:286.26px;width:300px;font-size:12.94px;line-height:17.43px;transform:scaleX(0.85)"><span style="top:-1.98px">وتجارت</span><b>2.41%</b></div>
<div class="l" style="left:771.25px;top:329.23px;width:300px;font-size:10px;line-height:13.47px;transform:scaleX(0.85)"><span style="top:-1.53px">وپارس</span><b>3.47%</b></div>
<div class="l" style="left:795.25px;top:330.81px;width:300px;font-size:8.82px;line-height:11.89px;transform:scaleX(0.85)"><span style="top:-1.35px">وپاسار</span><b>0%</b></div>
<div class="l" style="left:771.25px;top:367.72px;width:300px;font-size:9.41px;line-height:12.68px;transform:scaleX(0.85)"><span style="top:-1.44px">وبصادر</span><b>3.29%</b></div>
<div class="l" style="left:795.25px;top:368.07px;width:300px;font-size:5.88px;line-height:7.92px;transform:scaleX(0.85)"><span style="top:-0.9px">وخاور</span><b>3.66%</b></div>
<div class="l" style="left:795.25px;top:388.75px;width:300px;font-size:3.53px;line-height:4.75px;transform:scaleX(0.85)"><span style="top:-0.54px">وكار</span><b>3.6%</b></div>
<div class="l" style="left:838px;top:308.12px;width:300px;font-size:24.71px;line-height:33.28px;transform:scaleX(0.85)"><span style="top:-3.78px">ثپرديس</span><b>4.99%</b></div>
<div class="l" style="left:880.95px;top:288.46px;width:300px;font-size:12.94px;line-height:17.43px;transform:scaleX(0.85)"><span style="top:-1.98px">كرمان</span><b>3.4%</b></div>
<div class="l" style="left:913.8px;top:292.43px;width:300px;font-size:10px;line-height:13.47px;transform:scaleX(0.85)"><span style="top:-1.53px">ثشاهد</span><b>3.56%</b></div>
<div class="l" style="left:873.85px;top:327.96px;width:300px;font-size:8.82px;line-height:11.89px;transform:scaleX(0.85)"><span style="top:-1.35px">ثعمرا</span><b>5%</b></div>
<div class="l" style="left:897.8px;top:330.18px;width:300px;font-size:6.47px;line-height:8.72px;transform:scaleX(0.85)"><span style="top:-0.99px">ثنوسا</span><b>3.52%</b></div>
<div class="l" style="left:917.3px;top:330.97px;width:300px;font-size:5.88px;line-height:7.92px;transform:scaleX(0.85)"><span style="top:-0.9px">ثباغ</span><b>4.21%</b></div>
<div class="l" style="left:873.85px;top:354.09px;width:300px;font-size:7.06px;line-height:9.51px;transform:scaleX(0.85)"><span style="top:-1.08px">ثشرق</span><b>4.99%</b></div>
<div class="l" style="left:873.85px;top:376.64px;width:300px;font-size:7.06px;line-height:9.51px;transform:scaleX(0.85)"><span style="top:-1.08px">ثبهساز</span><b>2.28%</b></div>
<div class="l" style="left:895.45px;top:356.57px;width:300px;font-size:5.88px;line-height:7.92px;transform:scaleX(0.85)"><span style="top:-0.9px">ثامان</span><b>4.48%</b></div>
<div class="l" style="left:914.95px;top:350.82px;width:300px;font-size:5.29px;line-height:7.13px;transform:scaleX(0.85)"><span style="top:-0.81px">ثاخت</span><b>3.47%</b></div>
<div class="l" style="left:910.25px;top:368.31px;width:300px;font-size:4.71px;line-height:6.34px;transform:scaleX(0.85)"><span style="top:-0.72px">ثغرب</span><b>-5%</b></div>
<div class="l" style="left:921.5px;top:365.68px;width:300px;font-size:2.99px;line-height:4.02px;transform:scaleX(0.85)"><span style="top:-0.46px">تايرا</span><b>2.5%</b></div>
<div class="l" style="left:921.5px;top:375.22px;width:300px;font-size:3.06px;line-height:4.13px;transform:scaleX(0.85)"><span style="top:-0.47px">پكوير</span><b>4.4%</b></div>
<div class="l" style="left:895.45px;top:381.66px;width:300px;font-size:4.71px;line-height:6.34px;transform:scaleX(0.85)"><span style="top:-0.72px">ثفارس</span><b>4.97%</b></div>
<div class="l" style="left:909.8px;top:385.59px;width:300px;font-size:4.09px;line-height:5.51px;transform:scaleX(0.85)"><span style="top:-0.63px">پسهند</span><b>4.6%</b></div>
<div class="l" style="left:921.05px;top:386.03px;width:300px;font-size:3.76px;line-height:5.07px;transform:scaleX(0.85)"><span style="top:-0.58px">دجابر</span><b>2.1%</b></div>
<div class="l" style="left:971.85px;top:300.19px;width:300px;font-size:30.59px;line-height:41.21px;transform:scaleX(0.85)"><span style="top:-4.68px">شستا</span><b>3.97%</b></div>
<div class="l" style="left:1023.3px;top:302.19px;width:300px;font-size:15.29px;line-height:20.61px;transform:scaleX(0.85)"><span style="top:-2.34px">وغدير</span><b>5%</b></div>
<div class="l" style="left:1023.3px;top:361.3px;width:300px;font-size:8.24px;line-height:11.09px;transform:scaleX(0.85)"><span style="top:-1.26px">وبانك</span><b>3.75%</b></div>
<div class="l" style="left:1016.55px;top:384.66px;width:300px;font-size:4.71px;line-height:6.34px;transform:scaleX(0.85)"><span style="top:-0.72px">وصنعت</span><b>3.17%</b></div>
<div class="l" style="left:1031.85px;top:384.66px;width:300px;font-size:4.71px;line-height:6.34px;transform:scaleX(0.85)"><span style="top:-0.72px">وامید</span><b>3.3%</b></div>
<div class="l" style="left:732.6px;top:428.99px;width:300px;font-size:22.94px;line-height:30.91px;transform:scaleX(0.85)"><span style="top:-3.51px">حآفرين</span><b>1.64%</b></div>
<div class="l" style="left:732.6px;top:482.37px;width:300px;font-size:21.18px;line-height:28.53px;transform:scaleX(0.85)"><span style="top:-3.24px">حسير</span><b>2.84%</b></div>
<div class="l" style="left:788.35px;top:434.96px;width:300px;font-size:12.35px;line-height:16.64px;transform:scaleX(0.85)"><span style="top:-1.89px">توريل</span><b>2.5%</b></div>
<div class="l" style="left:788.35px;top:471.68px;width:300px;font-size:10.59px;line-height:14.27px;transform:scaleX(0.85)"><span style="top:-1.62px">حكشتي</span><b>4.13%</b></div>
<div class="l" style="left:780.1px;top:503.07px;width:300px;font-size:5.88px;line-height:7.92px;transform:scaleX(0.85)"><span style="top:-0.9px">حتايد</span><b>3.74%</b></div>
<div class="l" style="left:798.25px;top:502.01px;width:300px;font-size:4.71px;line-height:6.34px;transform:scaleX(0.85)"><span style="top:-0.72px">حپترو</span><b>4.1%</b></div>
<div class="l" style="left:780.1px;top:521.31px;width:300px;font-size:4.71px;line-height:6.34px;transform:scaleX(0.85)"><span style="top:-0.72px">حفارس</span><b>4.5%</b></div>
<div class="l" style="left:794px;top:519.75px;width:300px;font-size:3.9px;line-height:5.25px;transform:scaleX(0.85)"><span style="top:-0.6px">دكيمي</span><b>1.8%</b></div>
<div class="l" style="left:802.25px;top:516.3px;width:300px;font-size:2.75px;line-height:3.7px;transform:scaleX(0.85)"><span style="top:-0.42px">دلر</span><b>3.9%</b></div>
<div class="l" style="left:802.25px;top:525.45px;width:300px;font-size:2.93px;line-height:3.95px;transform:scaleX(0.85)"><span style="top:-0.45px">دفارا</span><b>4.2%</b></div>
<div class="l" style="left:837px;top:442.95px;width:300px;font-size:20px;line-height:26.95px;transform:scaleX(0.85)"><span style="top:-3.06px">سنير</span><b>4.74%</b></div>
<div class="l" style="left:870.9px;top:441.34px;width:300px;font-size:11.18px;line-height:15.06px;transform:scaleX(0.85)"><span style="top:-1.71px">سدور</span><b>4.94%</b></div>
<div class="l" style="left:870.9px;top:482.01px;width:300px;font-size:8.82px;line-height:11.89px;transform:scaleX(0.85)"><span style="top:-1.35px">سفارس</span><b>4.86%</b></div>
<div class="l" style="left:894px;top:434.68px;width:300px;font-size:6.47px;line-height:8.72px;transform:scaleX(0.85)"><span style="top:-0.99px">سشرق</span><b>3.88%</b></div>
<div class="l" style="left:913.6px;top:435.47px;width:300px;font-size:5.88px;line-height:7.92px;transform:scaleX(0.85)"><span style="top:-0.9px">سفار</span><b>4.99%</b></div>
<div class="l" style="left:891.7px;top:457.54px;width:300px;font-size:6.21px;line-height:8.36px;transform:scaleX(0.85)"><span style="top:-0.95px">وملل</span><b>4.9%</b></div>
<div class="l" style="left:905.7px;top:458.97px;width:300px;font-size:5.14px;line-height:6.93px;transform:scaleX(0.85)"><span style="top:-0.79px">وكار</span><b>4.8%</b></div>
<div class="l" style="left:917px;top:459.03px;width:300px;font-size:5.1px;line-height:6.87px;transform:scaleX(0.85)"><span style="top:-0.78px">ثنور</span><b>4.7%</b></div>
<div class="l" style="left:892.2px;top:479.65px;width:300px;font-size:4.12px;line-height:5.55px;transform:scaleX(0.85)"><span style="top:-0.63px">سصوفي</span><b>3.5%</b></div>
<div class="l" style="left:892.2px;top:494.65px;width:300px;font-size:4.12px;line-height:5.55px;transform:scaleX(0.85)"><span style="top:-0.63px">سخوز</span><b>4.7%</b></div>
<div class="l" style="left:906.8px;top:479.76px;width:300px;font-size:4.41px;line-height:5.94px;transform:scaleX(0.85)"><span style="top:-0.67px">ثمسكن</span><b>5%</b></div>
<div class="l" style="left:917.6px;top:481.12px;width:300px;font-size:4.07px;line-height:5.48px;transform:scaleX(0.85)"><span style="top:-0.62px">ثاباد</span><b>-3.2%</b></div>
<div class="l" style="left:906.8px;top:495.36px;width:300px;font-size:3.96px;line-height:5.34px;transform:scaleX(0.85)"><span style="top:-0.61px">حبندر</span><b>2.5%</b></div>
<div class="l" style="left:917.6px;top:496.3px;width:300px;font-size:3.57px;line-height:4.8px;transform:scaleX(0.85)"><span style="top:-0.55px">حتوكا</span><b>4.4%</b></div>
<div class="l" style="left:985.3px;top:428.69px;width:300px;font-size:30.59px;line-height:41.21px;transform:scaleX(0.85)"><span style="top:-4.68px">لپارس</span><b>-4.99%</b></div>
<div class="l" style="left:595px;top:490.58px;width:300px;font-size:21.76px;line-height:29.32px;transform:scaleX(0.85)"><span style="top:-3.33px">غمينو</span><b>-4.13%</b></div>
<div class="l" style="left:657.7px;top:494.54px;width:300px;font-size:18.82px;line-height:25.36px;transform:scaleX(0.85)"><span style="top:-2.88px">غدام</span><b>5%</b></div>
<div class="l" style="left:579.25px;top:557.73px;width:300px;font-size:14.12px;line-height:19.02px;transform:scaleX(0.85)"><span style="top:-2.16px">غنوش</span><b>-1.24%</b></div>
<div class="l" style="left:579.25px;top:605.96px;width:300px;font-size:12.35px;line-height:16.64px;transform:scaleX(0.85)"><span style="top:-1.89px">غفارس</span><b>0.94%</b></div>
<div class="l" style="left:610.45px;top:560.39px;width:300px;font-size:11.18px;line-height:15.06px;transform:scaleX(0.85)"><span style="top:-1.71px">مگيلا</span><b>.92%</b></div>
<div class="l" style="left:610.95px;top:606.24px;width:300px;font-size:11.18px;line-height:15.06px;transform:scaleX(0.85)"><span style="top:-1.71px">غبهنوش</span><b>-2%</b></div>
<div class="l" style="left:638.7px;top:553.31px;width:300px;font-size:8.82px;line-height:11.89px;transform:scaleX(0.85)"><span style="top:-1.35px">غچين</span><b>3.59%</b></div>
<div class="l" style="left:670.2px;top:553.31px;width:300px;font-size:8.82px;line-height:11.89px;transform:scaleX(0.85)"><span style="top:-1.35px">غديس</span><b>5%</b></div>
<div class="l" style="left:632.6px;top:587.35px;width:300px;font-size:7.65px;line-height:10.3px;transform:scaleX(0.85)"><span style="top:-1.17px">غگل</span><b>3.83%</b></div>
<div class="l" style="left:632.6px;top:622.07px;width:300px;font-size:5.29px;line-height:7.13px;transform:scaleX(0.85)"><span style="top:-0.81px">غپونه</span><b>4.48%</b></div>
<div class="l" style="left:649.75px;top:584.22px;width:300px;font-size:5.29px;line-height:7.13px;transform:scaleX(0.85)"><span style="top:-0.81px">غشاذر</span><b>1.46%</b></div>
<div class="l" style="left:665.55px;top:585.5px;width:300px;font-size:4.12px;line-height:5.55px;transform:scaleX(0.85)"><span style="top:-0.63px">غشهداب</span><b>2.47%</b></div>
<div class="l" style="left:679.4px;top:585.5px;width:300px;font-size:4.12px;line-height:5.55px;transform:scaleX(0.85)"><span style="top:-0.63px">غپاك</span><b>4.47%</b></div>
<div class="l" style="left:649.75px;top:606.16px;width:300px;font-size:4.71px;line-height:6.34px;transform:scaleX(0.85)"><span style="top:-0.72px">غاذر</span><b>3.4%</b></div>
<div class="l" style="left:665.55px;top:606.65px;width:300px;font-size:4.12px;line-height:5.55px;transform:scaleX(0.85)"><span style="top:-0.63px">غشان</span><b>2.5%</b></div>
<div class="l" style="left:679.4px;top:605.39px;width:300px;font-size:5.06px;line-height:6.81px;transform:scaleX(0.85)"><span style="top:-0.77px">حريل</span><b>4.6%</b></div>
<div class="l" style="left:648.45px;top:626.65px;width:300px;font-size:4.12px;line-height:5.55px;transform:scaleX(0.85)"><span style="top:-0.63px">غگرجي</span><b>4.65%</b></div>
<div class="l" style="left:662.25px;top:625.14px;width:300px;font-size:5.24px;line-height:7.06px;transform:scaleX(0.85)"><span style="top:-0.8px">ساراب</span><b>2.1%</b></div>
<div class="l" style="left:673.65px;top:626.12px;width:300px;font-size:4.51px;line-height:6.08px;transform:scaleX(0.85)"><span style="top:-0.69px">سكرد</span><b>1.8%</b></div>
<div class="l" style="left:682.25px;top:626.85px;width:300px;font-size:3.97px;line-height:5.35px;transform:scaleX(0.85)"><span style="top:-0.61px">سبهان</span><b>-3.9%</b></div>
<div class="l" style="left:583.85px;top:698.87px;width:300px;font-size:24.71px;line-height:33.28px;transform:scaleX(0.85)"><span style="top:-3.78px">مديريت</span><b>3.92%</b></div>
<div class="l" style="left:632.75px;top:675.46px;width:300px;font-size:16.47px;line-height:22.19px;transform:scaleX(0.85)"><span style="top:-2.52px">صبا</span><b>4.97%</b></div>
<div class="l" style="left:672.25px;top:683.38px;width:300px;font-size:10.59px;line-height:14.27px;transform:scaleX(0.85)"><span style="top:-1.62px">ومدير</span><b>4.88%</b></div>
<div class="l" style="left:620.5px;top:725.82px;width:300px;font-size:9.41px;line-height:12.68px;transform:scaleX(0.85)"><span style="top:-1.44px">ومهان</span><b>4.76%</b></div>
<div class="l" style="left:620.5px;top:760.32px;width:300px;font-size:9.41px;line-height:12.68px;transform:scaleX(0.85)"><span style="top:-1.44px">وهامون</span><b>3.22%</b></div>
<div class="l" style="left:647.85px;top:722.19px;width:300px;font-size:7.06px;line-height:9.51px;transform:scaleX(0.85)"><span style="top:-1.08px">وخارزم</span><b>0.11%</b></div>
<div class="l" style="left:673.85px;top:722.98px;width:300px;font-size:6.47px;line-height:8.72px;transform:scaleX(0.85)"><span style="top:-0.99px">وسپه</span><b>0.3%</b></div>
<div class="l" style="left:644.65px;top:746.93px;width:300px;font-size:5.88px;line-height:7.92px;transform:scaleX(0.85)"><span style="top:-0.9px">وسكرمان</span><b>2.76%</b></div>
<div class="l" style="left:644.65px;top:769.62px;width:300px;font-size:5.88px;line-height:7.92px;transform:scaleX(0.85)"><span style="top:-0.9px">وساپا</span><b>4.03%</b></div>
<div class="l" style="left:664.1px;top:747.46px;width:300px;font-size:4.71px;line-height:6.34px;transform:scaleX(0.85)"><span style="top:-0.72px">واتي</span><b>2.36%</b></div>
<div class="l" style="left:679.45px;top:748.25px;width:300px;font-size:4.12px;line-height:5.55px;transform:scaleX(0.85)"><span style="top:-0.63px">وبهمن</span><b>4.5%</b></div>
<div class="l" style="left:664.1px;top:764.62px;width:300px;font-size:5.14px;line-height:6.93px;transform:scaleX(0.85)"><span style="top:-0.79px">سهگمت</span><b>4.2%</b></div>
<div class="l" style="left:679.45px;top:765.57px;width:300px;font-size:4.44px;line-height:5.98px;transform:scaleX(0.85)"><span style="top:-0.68px">سقاين</span><b>4.9%</b></div>
<div class="l" style="left:664.1px;top:778.3px;width:300px;font-size:4.19px;line-height:5.65px;transform:scaleX(0.85)"><span style="top:-0.64px">سفانو</span><b>4.8%</b></div>
<div class="l" style="left:679.45px;top:779.08px;width:300px;font-size:3.62px;line-height:4.87px;transform:scaleX(0.85)"><span style="top:-0.55px">ساربيل</span><b>-4.7%</b></div>
<div class="l" style="left:731.6px;top:578.46px;width:300px;font-size:28.24px;line-height:38.04px;transform:scaleX(0.85)"><span style="top:-4.32px">آبادا</span><b>-3.68%</b></div>
<div class="l" style="left:787.1px;top:578.67px;width:300px;font-size:17.06px;line-height:22.98px;transform:scaleX(0.85)"><span style="top:-2.61px">دماوند</span><b>-1.66%</b></div>
<div class="l" style="left:773.95px;top:637.69px;width:300px;font-size:4.42px;line-height:5.96px;transform:scaleX(0.85)"><span style="top:-0.68px">غشصفا</span><b>-5%</b></div>
<div class="l" style="left:773.95px;top:652.8px;width:300px;font-size:4.23px;line-height:5.7px;transform:scaleX(0.85)"><span style="top:-0.65px">غمهرا</span><b>-3.2%</b></div>
<div class="l" style="left:787.95px;top:637.75px;width:300px;font-size:5.31px;line-height:7.15px;transform:scaleX(0.85)"><span style="top:-0.81px">غالبر</span><b>2.5%</b></div>
<div class="l" style="left:801.1px;top:637.83px;width:300px;font-size:3.99px;line-height:5.37px;transform:scaleX(0.85)"><span style="top:-0.61px">غسالم</span><b>4.4%</b></div>
<div class="l" style="left:787.95px;top:653.99px;width:300px;font-size:4.28px;line-height:5.76px;transform:scaleX(0.85)"><span style="top:-0.65px">وبيمه</span><b>4.6%</b></div>
<div class="l" style="left:801.1px;top:652.58px;width:300px;font-size:4.06px;line-height:5.47px;transform:scaleX(0.85)"><span style="top:-0.62px">وتوسم</span><b>2.1%</b></div>
<div class="l" style="left:745.6px;top:703.44px;width:300px;font-size:30.59px;line-height:41.21px;transform:scaleX(0.85)"><span style="top:-4.68px">پدرخش</span><b>-2.06%</b></div>
<div class="l" style="left:801.1px;top:705.26px;width:300px;font-size:5.04px;line-height:6.79px;transform:scaleX(0.85)"><span style="top:-0.77px">وگستر</span><b>1.8%</b></div>
<div class="l" style="left:801.1px;top:727.89px;width:300px;font-size:4.83px;line-height:6.51px;transform:scaleX(0.85)"><span style="top:-0.74px">وصنا</span><b>3.9%</b></div>
<div class="l" style="left:801.1px;top:748.13px;width:300px;font-size:4.43px;line-height:5.97px;transform:scaleX(0.85)"><span style="top:-0.68px">بفجر</span><b>4.2%</b></div>
<div class="l" style="left:801.1px;top:764.32px;width:300px;font-size:3.66px;line-height:4.93px;transform:scaleX(0.85)"><span style="top:-0.56px">بمپنا</span><b>4.9%</b></div>
<div class="l" style="left:801.1px;top:776.98px;width:300px;font-size:3.84px;line-height:5.17px;transform:scaleX(0.85)"><span style="top:-0.59px">وهور</span><b>4.8%</b></div>
<div class="l" style="left:835.5px;top:553.15px;width:300px;font-size:20px;line-height:26.95px;transform:scaleX(0.85)"><span style="top:-3.06px">كاما</span><b>1.77%</b></div>
<div class="l" style="left:879.65px;top:538.84px;width:300px;font-size:14.71px;line-height:19.81px;transform:scaleX(0.85)"><span style="top:-2.25px">كدما</span><b>-4.99%</b></div>
<div class="l" style="left:866.1px;top:580.6px;width:300px;font-size:7.65px;line-height:10.3px;transform:scaleX(0.85)"><span style="top:-1.17px">ومعادن</span><b>4.65%</b></div>
<div class="l" style="left:866.1px;top:605.22px;width:300px;font-size:5.29px;line-height:7.13px;transform:scaleX(0.85)"><span style="top:-0.81px">كگل</span><b>4.38%</b></div>
<div class="l" style="left:883.15px;top:578.26px;width:300px;font-size:4.71px;line-height:6.34px;transform:scaleX(0.85)"><span style="top:-0.72px">كنور</span><b>3.36%</b></div>
<div class="l" style="left:896.7px;top:578.26px;width:300px;font-size:4.71px;line-height:6.34px;transform:scaleX(0.85)"><span style="top:-0.72px">كچاد</span><b>3.29%</b></div>
<div class="l" style="left:884.15px;top:593.79px;width:300px;font-size:4.5px;line-height:6.06px;transform:scaleX(0.85)"><span style="top:-0.69px">بزاگرس</span><b>4.7%</b></div>
<div class="l" style="left:884.15px;top:606.71px;width:300px;font-size:4.38px;line-height:5.89px;transform:scaleX(0.85)"><span style="top:-0.67px">پتاير</span><b>5%</b></div>
<div class="l" style="left:897.7px;top:594.56px;width:300px;font-size:3.96px;line-height:5.34px;transform:scaleX(0.85)"><span style="top:-0.61px">پكرمان</span><b>3.2%</b></div>
<div class="l" style="left:897.7px;top:607.49px;width:300px;font-size:3.83px;line-height:5.16px;transform:scaleX(0.85)"><span style="top:-0.59px">پاسا</span><b>2.5%</b></div>
<div class="l" style="left:943.05px;top:537.3px;width:300px;font-size:20px;line-height:26.95px;transform:scaleX(0.85)"><span style="top:-3.06px">مفاخر</span><b>1.73%</b></div>
<div class="l" style="left:928.25px;top:585.51px;width:300px;font-size:12.94px;line-height:17.43px;transform:scaleX(0.85)"><span style="top:-1.98px">تاپكيش</span><b>5%</b></div>
<div class="l" style="left:952.55px;top:590.16px;width:300px;font-size:4.71px;line-height:6.34px;transform:scaleX(0.85)"><span style="top:-0.72px">مرقام</span><b>5%</b></div>
<div class="l" style="left:967.35px;top:588.28px;width:300px;font-size:4.06px;line-height:5.47px;transform:scaleX(0.85)"><span style="top:-0.62px">پسهند</span><b>-4.4%</b></div>
<div class="l" style="left:952.55px;top:605.96px;width:300px;font-size:4.75px;line-height:6.39px;transform:scaleX(0.85)"><span style="top:-0.73px">پلاست</span><b>-4.6%</b></div>
<div class="l" style="left:967.35px;top:600.45px;width:300px;font-size:3.38px;line-height:4.55px;transform:scaleX(0.85)"><span style="top:-0.52px">كروي</span><b>2.1%</b></div>
<div class="l" style="left:967.35px;top:609.65px;width:300px;font-size:3.38px;line-height:4.55px;transform:scaleX(0.85)"><span style="top:-0.52px">كبافق</span><b>1.8%</b></div>
<div class="l" style="left:1010.65px;top:538.01px;width:300px;font-size:16.47px;line-height:22.19px;transform:scaleX(0.85)"><span style="top:-2.52px">سيمرغ</span><b>4.99%</b></div>
<div class="l" style="left:994.4px;top:580.4px;width:300px;font-size:7.65px;line-height:10.3px;transform:scaleX(0.85)"><span style="top:-1.17px">زماهان</span><b>4.18%</b></div>
<div class="l" style="left:994.4px;top:602.22px;width:300px;font-size:6.22px;line-height:8.38px;transform:scaleX(0.85)"><span style="top:-0.95px">كاذر</span><b>3.9%</b></div>
<div class="l" style="left:1015.8px;top:580.02px;width:300px;font-size:5.29px;line-height:7.13px;transform:scaleX(0.85)"><span style="top:-0.81px">زگلدشت</span><b>4.97%</b></div>
<div class="l" style="left:1032.05px;top:580.9px;width:300px;font-size:4.64px;line-height:6.25px;transform:scaleX(0.85)"><span style="top:-0.71px">كماسه</span><b>4.2%</b></div>
<div class="l" style="left:1014.8px;top:595.14px;width:300px;font-size:4.61px;line-height:6.21px;transform:scaleX(0.85)"><span style="top:-0.71px">رانفور</span><b>4.9%</b></div>
<div class="l" style="left:1014.8px;top:607.07px;width:300px;font-size:4.47px;line-height:6.03px;transform:scaleX(0.85)"><span style="top:-0.68px">افرا</span><b>4.8%</b></div>
<div class="l" style="left:1027.05px;top:601.52px;width:300px;font-size:4.1px;line-height:5.53px;transform:scaleX(0.85)"><span style="top:-0.63px">زپارس</span><b>4.7%</b></div>
<div class="l" style="left:1034.6px;top:597.14px;width:300px;font-size:3.13px;line-height:4.21px;transform:scaleX(0.85)"><span style="top:-0.48px">زقيام</span><b>5%</b></div>
<div class="l" style="left:1034.6px;top:609.01px;width:300px;font-size:3.03px;line-height:4.09px;transform:scaleX(0.85)"><span style="top:-0.46px">زكوثر</span><b>3.2%</b></div>
<div class="l" style="left:825.3px;top:655px;width:300px;font-size:7.65px;line-height:10.3px;transform:scaleX(0.85)"><span style="top:-1.17px">كهمدا</span><b>1.2%</b></div>
<div class="l" style="left:844.1px;top:655.79px;width:300px;font-size:7.06px;line-height:9.51px;transform:scaleX(0.85)"><span style="top:-1.08px">كپارس</span><b>.76%</b></div>
<div class="l" style="left:861.2px;top:656.58px;width:300px;font-size:6.47px;line-height:8.72px;transform:scaleX(0.85)"><span style="top:-0.99px">كگاز</span><b>.79%</b></div>
<div class="l" style="left:825.3px;top:680.82px;width:300px;font-size:5.29px;line-height:7.13px;transform:scaleX(0.85)"><span style="top:-0.81px">كساوه</span><b>-4.97%</b></div>
<div class="l" style="left:844.75px;top:679.23px;width:300px;font-size:6.47px;line-height:8.72px;transform:scaleX(0.85)"><span style="top:-0.99px">كترام</span><b>.33%</b></div>
<div class="l" style="left:861.85px;top:680.02px;width:300px;font-size:5.88px;line-height:7.92px;transform:scaleX(0.85)"><span style="top:-0.9px">كسرام</span><b>.99%</b></div>
<div class="l" style="left:825.3px;top:699.13px;width:300px;font-size:6.29px;line-height:8.47px;transform:scaleX(0.85)"><span style="top:-0.96px">زدشت</span><b>-2.5%</b></div>
<div class="l" style="left:842.15px;top:700.5px;width:300px;font-size:5.27px;line-height:7.1px;transform:scaleX(0.85)"><span style="top:-0.81px">زبينا</span><b>4.4%</b></div>
<div class="l" style="left:855.3px;top:700.89px;width:300px;font-size:4.98px;line-height:6.71px;transform:scaleX(0.85)"><span style="top:-0.76px">زشريف</span><b>4.6%</b></div>
<div class="l" style="left:865.45px;top:702.25px;width:300px;font-size:3.97px;line-height:5.35px;transform:scaleX(0.85)"><span style="top:-0.61px">كفرا</span><b>2.1%</b></div>
<div class="l" style="left:898.65px;top:644.77px;width:300px;font-size:17.06px;line-height:22.98px;transform:scaleX(0.85)"><span style="top:-2.61px">سمگا</span><b>0.66%</b></div>
<div class="l" style="left:925.1px;top:653.58px;width:300px;font-size:4.09px;line-height:5.52px;transform:scaleX(0.85)"><span style="top:-0.63px">كلوند</span><b>1.8%</b></div>
<div class="l" style="left:925.1px;top:668.18px;width:300px;font-size:4.65px;line-height:6.27px;transform:scaleX(0.85)"><span style="top:-0.71px">كفپارس</span><b>3.9%</b></div>
<div class="l" style="left:949.6px;top:649.57px;width:300px;font-size:9.41px;line-height:12.68px;transform:scaleX(0.85)"><span style="top:-1.44px">رتكو</span><b>2.39%</b></div>
<div class="l" style="left:965.45px;top:655.7px;width:300px;font-size:4.86px;line-height:6.55px;transform:scaleX(0.85)"><span style="top:-0.74px">گكيش</span><b>4.2%</b></div>
<div class="l" style="left:974.7px;top:655.08px;width:300px;font-size:2.99px;line-height:4.02px;transform:scaleX(0.85)"><span style="top:-0.46px">گپارس</span><b>-4.9%</b></div>
<div class="l" style="left:982.05px;top:654.64px;width:300px;font-size:3.31px;line-height:4.46px;transform:scaleX(0.85)"><span style="top:-0.51px">رانفور</span><b>4.8%</b></div>
<div class="l" style="left:978.75px;top:664.83px;width:300px;font-size:3.06px;line-height:4.12px;transform:scaleX(0.85)"><span style="top:-0.47px">ركيش</span><b>4.7%</b></div>
<div class="l" style="left:1004.9px;top:649.57px;width:300px;font-size:9.41px;line-height:12.68px;transform:scaleX(0.85)"><span style="top:-1.44px">بهپاك</span><b>4.95%</b></div>
<div class="l" style="left:1020.85px;top:655.59px;width:300px;font-size:4.94px;line-height:6.66px;transform:scaleX(0.85)"><span style="top:-0.76px">چافست</span><b>5%</b></div>
<div class="l" style="left:1032.9px;top:652.46px;width:300px;font-size:3.26px;line-height:4.39px;transform:scaleX(0.85)"><span style="top:-0.5px">بكاب</span><b>3.2%</b></div>
<div class="l" style="left:1029.85px;top:663.34px;width:300px;font-size:2.49px;line-height:3.36px;transform:scaleX(0.85)"><span style="top:-0.38px">بسويچ</span><b>-2.5%</b></div>
<div class="l" style="left:1035.75px;top:663.23px;width:300px;font-size:2.58px;line-height:3.47px;transform:scaleX(0.85)"><span style="top:-0.39px">قصفها</span><b>4.4%</b></div>
<div class="l" style="left:887.7px;top:714.88px;width:300px;font-size:10px;line-height:13.47px;transform:scaleX(0.85)"><span style="top:-1.53px">قثابت</span><b>0.09%</b></div>
<div class="l" style="left:905.35px;top:715.67px;width:300px;font-size:9.41px;line-height:12.68px;transform:scaleX(0.85)"><span style="top:-1.44px">قچار</span><b>.26%</b></div>
<div class="l" style="left:922.5px;top:716.03px;width:300px;font-size:5.02px;line-height:6.77px;transform:scaleX(0.85)"><span style="top:-0.77px">قهكمت</span><b>4.6%</b></div>
<div class="l" style="left:918.75px;top:730.92px;width:300px;font-size:3.36px;line-height:4.53px;transform:scaleX(0.85)"><span style="top:-0.51px">قشكر</span><b>2.1%</b></div>
<div class="l" style="left:927.55px;top:731.55px;width:300px;font-size:2.9px;line-height:3.9px;transform:scaleX(0.85)"><span style="top:-0.44px">لخزر</span><b>1.8%</b></div>
<div class="l" style="left:947.6px;top:706.47px;width:300px;font-size:9.41px;line-height:12.68px;transform:scaleX(0.85)"><span style="top:-1.44px">لرغاب</span><b>2.48%</b></div>
<div class="l" style="left:963.7px;top:705.31px;width:300px;font-size:3.4px;line-height:4.59px;transform:scaleX(0.85)"><span style="top:-0.52px">لسرما</span><b>3.9%</b></div>
<div class="l" style="left:963.7px;top:712.5px;width:300px;font-size:3.64px;line-height:4.9px;transform:scaleX(0.85)"><span style="top:-0.56px">لابسا</span><b>4.2%</b></div>
<div class="l" style="left:963.7px;top:721.03px;width:300px;font-size:4.17px;line-height:5.62px;transform:scaleX(0.85)"><span style="top:-0.64px">دتوزيع</span><b>-4.9%</b></div>
<div class="l" style="left:984.85px;top:710.26px;width:300px;font-size:4.04px;line-height:5.44px;transform:scaleX(0.85)"><span style="top:-0.62px">دسبحا</span><b>4.8%</b></div>
<div class="l" style="left:993.5px;top:710.29px;width:300px;font-size:4.02px;line-height:5.41px;transform:scaleX(0.85)"><span style="top:-0.61px">دزهراوي</span><b>4.7%</b></div>
<div class="l" style="left:1001.5px;top:710.68px;width:300px;font-size:3.73px;line-height:5.02px;transform:scaleX(0.85)"><span style="top:-0.57px">نمرينو</span><b>5%</b></div>
<div class="l" style="left:1026.4px;top:701.43px;width:300px;font-size:10.59px;line-height:14.27px;transform:scaleX(0.85)"><span style="top:-1.62px">بالاس</span><b>5%</b></div>
<div class="l" style="left:834.85px;top:748.21px;width:300px;font-size:16.47px;line-height:22.19px;transform:scaleX(0.85)"><span style="top:-2.52px">چكارن</span><b>4.98%</b></div>
<div class="l" style="left:861.85px;top:755.48px;width:300px;font-size:5.88px;line-height:7.92px;transform:scaleX(0.85)"><span style="top:-0.9px">چكاوه</span><b>.97%</b></div>
<div class="l" style="left:861.85px;top:775.68px;width:300px;font-size:4.62px;line-height:6.22px;transform:scaleX(0.85)"><span style="top:-0.71px">نطرين</span><b>3.2%</b></div>
<div class="l" style="left:890.75px;top:770.25px;width:300px;font-size:8.24px;line-height:11.09px;transform:scaleX(0.85)"><span style="top:-1.26px">كحافظ</span><b>-2.9%</b></div>
<div class="l" style="left:908.75px;top:775.76px;width:300px;font-size:4.15px;line-height:5.59px;transform:scaleX(0.85)"><span style="top:-0.63px">كخاك</span><b>2.5%</b></div>
<div class="l" style="left:918.7px;top:774.14px;width:300px;font-size:2.57px;line-height:3.46px;transform:scaleX(0.85)"><span style="top:-0.39px">كسعدي</span><b>4.4%</b></div>
<div class="l" style="left:927.15px;top:774.2px;width:300px;font-size:2.52px;line-height:3.4px;transform:scaleX(0.85)"><span style="top:-0.39px">كچيني</span><b>4.6%</b></div>
<div class="l" style="left:918.7px;top:781.71px;width:300px;font-size:2.55px;line-height:3.44px;transform:scaleX(0.85)"><span style="top:-0.39px">كفرآور</span><b>2.1%</b></div>
<div class="l" style="left:927.15px;top:781.77px;width:300px;font-size:2.51px;line-height:3.38px;transform:scaleX(0.85)"><span style="top:-0.38px">پرديس</span><b>1.8%</b></div>
<div class="l" style="left:944.85px;top:760.3px;width:300px;font-size:8.24px;line-height:11.09px;transform:scaleX(0.85)"><span style="top:-1.26px">بكام</span><b>4.07%</b></div>
<div class="l" style="left:955.5px;top:766.48px;width:300px;font-size:3.65px;line-height:4.92px;transform:scaleX(0.85)"><span style="top:-0.56px">ولبهمن</span><b>3.9%</b></div>
<div class="l" style="left:966.45px;top:767.49px;width:300px;font-size:4.09px;line-height:5.51px;transform:scaleX(0.85)"><span style="top:-0.63px">ولغدر</span><b>4.2%</b></div>
<div class="l" style="left:944.85px;top:778.49px;width:300px;font-size:3.46px;line-height:4.66px;transform:scaleX(0.85)"><span style="top:-0.53px">وايران</span><b>4.9%</b></div>
<div class="l" style="left:957px;top:777.72px;width:300px;font-size:4.03px;line-height:5.43px;transform:scaleX(0.85)"><span style="top:-0.62px">وتوس</span><b>4.8%</b></div>
<div class="l" style="left:967.95px;top:781.28px;width:300px;font-size:2.57px;line-height:3.47px;transform:scaleX(0.85)"><span style="top:-0.39px">پارسيان</span><b>-4.7%</b></div>
</body></html>
